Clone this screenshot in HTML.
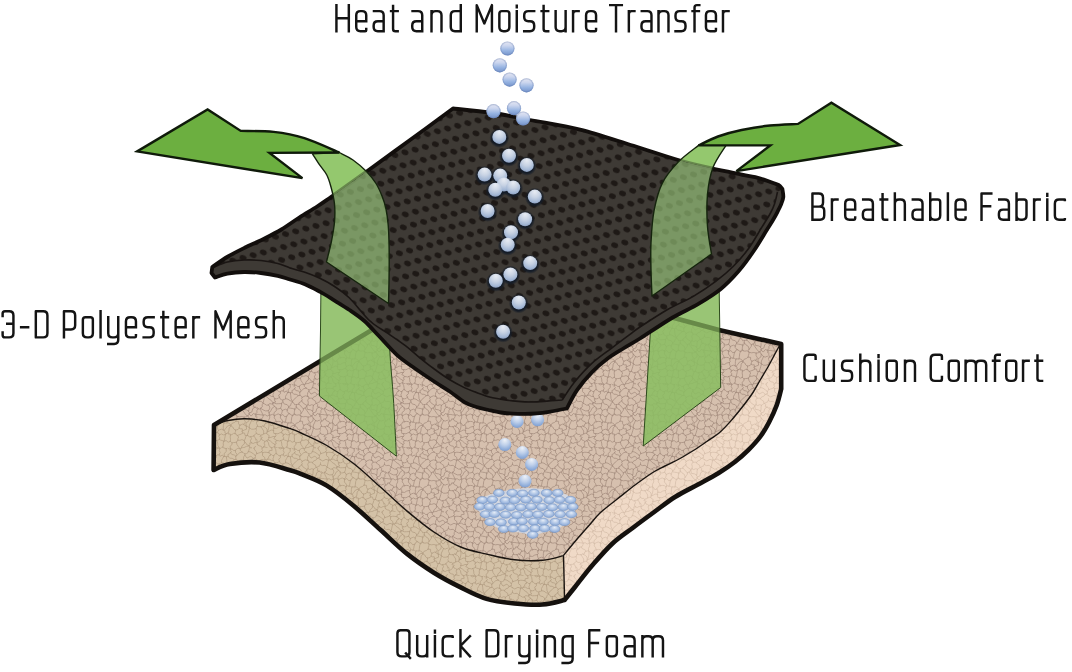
<!DOCTYPE html>
<html><head><meta charset="utf-8"><title>Layers</title>
<style>
html,body{margin:0;padding:0;background:#fff;}
body{width:1072px;height:672px;overflow:hidden;position:relative;}
svg{position:absolute;left:0;top:0;display:block;filter:blur(0.45px);}
text{font-family:"Liberation Sans",sans-serif;}
</style></head><body>
<svg width="1072" height="672" viewBox="0 0 1072 672">
<defs>
<path id="crkp" d="M23.4 13.1L22.6 11.2L24.5 9.7L24.3 7.8M23.4 13.1L24 14.8L25.3 15.6L27 16.1M24.3 7.8L25 6.8L26.3 7.1L27.2 6.4M27.2 6.4L28.1 8.3L30.6 7L31.6 8.7M31.6 8.7L30.6 10.5L29.5 12.4L29.6 14.7M27 16.1L27.7 15.3L28.9 15.4L29.6 14.7M23.4 13.1L22.2 14.4L20.7 14.8L19 14.8M24.3 7.8L22.6 7.6L21.6 6.3L20.2 5.7M17.4 12.5L18 13.2L18.1 14.3L19 14.8M17.4 12.5L16.9 10.8L17.6 9.2L17.8 7.6M20.2 5.7L19.1 5.9L18.4 6.7L17.8 7.6M65.7 60.8L65.1 62.6L62.9 62.7L62 64.2M52.5 57.5L52.3 57.2L52.3 56.8L52.1 56.5M52.5 57.5L53.9 59L54.9 60.8L57 61.5M57 61.5L57.9 60.6L57.8 58.9L59.4 58.8M59.4 58.8L58.3 56.9L59.5 54.7L58.8 52.7M55.2 51.4L56.4 51.7L57.3 53L58.8 52.7M52.1 56.5L53.2 55L53.6 52.9L55 51.5M27.2 6.4L28.2 4.5L27.2 2.4L28 0.4M31.6 8.7L31.9 8.2L32.4 8.9L32.7 8.5M28 0.4L28.5 -1L30 -0.2L30.8 -1M30.8 -1L31.6 0.1L33 0.2L34.1 0.7M32.7 8.5L32 5.7L34.3 3.5L34.1 0.7M44.7 31.7L44.2 30.7L44.5 29.9L45.2 29.2M44.7 31.7L44.9 31.9L44.9 32.2L45.1 32.3M45.2 29.2L46.2 27.8L47.2 26.5L47.5 24.8M55.1 31.9L52.9 29.5L51 26.8L49.1 24.1M55.1 31.9L54.4 32.9L53.2 32.9L52.1 33.1M52.1 33.1L49.9 32.5L47.5 32.8L45.1 32.3M47.5 24.8L48 24.7L48.4 24.1L49.1 24.1M36.5 17.4L38.1 15.2L40.3 13.5L42.2 11.5M36.5 17.5L36.6 17.7L36.5 18L36.6 18.2M36.6 18.2L37.9 19.1L38.6 20.8L40.6 20.6M40.6 20.6L41.3 20.4L42 20.3L42.8 20.2M42.8 20.2L43.1 18.6L44.7 18L45.6 16.8M45.6 16.8L46.3 15.7L45.6 14.4L46.3 13.3M46.3 13.3L45.4 12.6L44.8 11.6L43.6 11.3M43.6 11.3L43.1 11.4L42.7 11.6L42.2 11.5M34.3 8.9L35 9.1L35.5 8.6L36.1 8.4M34.3 8.9L34.8 11.8L35 14.7L36.5 17.4M36.1 8.4L37.7 10.2L40.2 10.3L42.2 11.5M29.6 14.7L32 15.2L34.1 16.7L36.5 17.5M32.7 8.5L33.2 8.6L33.9 8.2L34.3 8.9M27 16.1L26.6 16.7L26.9 17.3L26.9 18M32.7 22.5L31.1 20.6L28.4 20.1L26.9 18M32.7 22.5L34.6 21.7L35 19.4L36.6 18.2M40.3 22.8L42 24.9L44.3 26.4L45.2 29.2M40.3 22.8L40.3 22.1L40.4 21.3L40.6 20.6M47.5 24.8L45.8 23.4L44.6 21.6L42.8 20.2M51 21.6L50.9 21.9L50.6 22.1L50.7 22.5M51 21.6L49 20.3L47 18.9L45.6 16.8M50.7 22.5L50.1 23L49.4 23.3L49.1 24.1M51.5 12.4L49.6 11.8L48 12.4L46.3 13.3M51.5 12.4L52.5 12.4L52.5 13.6L53.1 14.1M53.1 14.1L51.7 16.1L52.3 18.4L52 20.7M52 20.7L51.7 21.1L51.3 21.2L51 21.6M17.4 12.5L15.3 12.4L13.5 11.2L11.3 11.2M17.8 7.6L16.6 7.5L15.4 6.5L14.1 7.3M11.3 11.2L12.5 10.2L12.8 8.4L14.1 7.3M20.2 5.7L20 3.4L19.6 1.2L18.4 -0.8M15.7 -0.2L16.5 -0.6L17.4 -0.8L18.4 -0.8M15.7 -0.2L16.2 2.3L13.3 2.7L12.9 4.7M12.9 4.7L13.5 5.4L14.7 6L14.1 7.3M36.1 8.4L35.9 6.5L37.6 5.9L38.5 4.7M43.6 11.3L44 10.3L43.7 9.3L43.8 8.3M43.8 8.3L42.2 6.9L39.9 6.6L38.5 4.7M34.1 0.7L35.5 -0.3L37 1.2L38.5 0.5M38.5 0.5L38.5 0.7L38.7 0.9L38.8 1.1M38.5 4.7L39.4 3.6L38.1 2.3L38.8 1.1M38.8 1.1L40.4 1.2L41.6 2.6L43.4 2.4M43.9 8.2L45 6.2L43.5 4.4L43.4 2.4M28 0.4L27.9 0.1L27.6 0.3L27.4 0.1M18.4 -0.8L18.5 -0.9L18.5 -1L18.6 -1.1M27.4 0.1L24.4 0.8L21.6 -0.9L18.6 -1.1M49.3 -0.1L48.8 0L48.7 0.5L48.3 0.8M47.8 0.6L48 0.7L48.1 0.9L48.3 0.8M43.4 2.4L44.5 1L45.9 0.2L47.8 0.6M50.2 4.1L49.2 3.2L48.3 2.3L48.3 0.8M50.2 4.1L47.6 4.6L45.9 6.6L43.9 8.2M39 30.6L38.3 28.9L38.4 27.2L38.8 25.4M39 30.6L37.8 29.6L37.5 31.3L36.6 31.3M36.6 31.3L35.2 31.2L34.4 30L33.2 29.6M38.8 25.4L36.8 24.5L34.6 24.2L32.4 23.7M33.2 29.6L32 28.7L31.2 27.7L31.3 26.1M32.4 23.7L31.8 24.4L31.7 25.3L31.3 26.1M40.3 22.8L40.5 24.1L38.7 24.2L38.8 25.4M44.7 31.7L42.9 30.8L40.9 31.2L39 30.6M32.7 22.5L32.6 22.9L32.5 23.3L32.4 23.7M-3.2 19.5L-2.1 20.5L-0.9 21.5L-1 23.2M0.3 16.6L2.4 17.6L5.1 17.3L7.1 19.1M0.3 16.6L0.5 14.9L-0.9 13.3L0.1 11.5M7.1 19.1L7.6 16.9L8.1 14.6L8.7 12.3M0.1 11.5L2.8 13L5.9 11.3L8.7 12.3M11.3 11.2L11 11.8L10.4 11.9L9.8 11.9M9.8 11.9L9.6 12.1L9.3 12L9 12M12.9 4.7L10.8 4.4L8.8 4.2L6.7 4.8M6.7 4.8L6.4 7.6L8.7 9.4L9 12M15.7 -0.2L15.6 -0.3L15.5 -0.3L15.4 -0.3M52.1 33.1L52.1 35.5L53.5 38L51.7 40.3M45.1 32.3L44.9 33.9L44.4 35.5L44.1 37.1M44.1 37.1L46.6 37.4L46.6 39.9L47.9 41.2M47.9 41.2L49.1 40.8L50.3 40.1L51.7 40.3M43.4 46.1L44.8 45.8L46.2 45.4L47.2 44.1M43.4 46.1L43.6 47.3L43.1 48.4L43.2 49.7M43.2 49.7L44.1 50.1L44.9 50.6L45.3 51.6M45.3 51.6L47.1 50.8L49 50.2L50.7 49M47.2 44.1L48.4 44.8L50.3 44.8L50.3 47M50.7 49L50.8 48.3L49.8 47.8L50.3 47M45.9 56.2L45.8 54.7L46.7 53L45.3 51.6M45.9 56.2L47.9 56.3L50 55.6L52.1 56.5M55 51.5L53.1 51.5L52.6 49.1L50.7 49M47.9 41.2L47.6 42.2L47.1 43L47.2 44.1M51.7 40.3L52.2 41.2L53.2 41.3L54 41.9M54.3 42.3L54.2 42.1L54 42.1L54 41.9M54.3 42.3L54.6 45.2L52.4 46L50.3 47M57.5 43.9L56.8 46.4L56.1 48.9L55.2 51.4M57.5 43.9L57.5 43.7L57.3 43.6L57.2 43.5M57.2 43.5L56.3 43L55.4 42.3L54.3 42.3M57.2 43.5L57.4 41L58.5 38.9L59.5 36.6M54 41.9L54 38.9L56.8 37.1L57.3 34.3M59.5 36.6L58.8 35.9L58.3 34.9L57.3 34.3M57.5 43.9L59.5 45.2L61.7 45.2L64 44.7M64 44.7L64.5 43.9L65.4 43.4L65.7 42.4M65.7 42.4L64.5 41L65.5 39.3L64.9 37.7M59.5 36.6L61.3 37.1L63.3 36.2L64.9 37.7M55.1 31.9L55.4 32L55.6 31.7L55.8 31.8M55.8 31.8L56 32.8L57 33.3L57.3 34.3M26.9 18L26.2 18.3L25.7 18.7L25.6 19.6M26.3 26.4L27.9 25.8L29.5 25.2L31.3 26.1M26.3 26.4L25.6 25.8L25.4 24.8L24.4 24.3M25.6 19.6L25.5 21.2L25.2 22.8L24.4 24.3M19 14.8L18.2 15.9L19.8 18L17.4 18.5M25.6 19.6L22.8 19.7L20.1 19.8L17.4 18.5M9.8 11.9L12.1 14.4L15 16.2L17.1 18.9M12.5 21L10.5 21.2L8.9 20.1L7.2 19.3M12.5 21L13.6 19.5L15.4 20L16.9 19.4M8.7 12.3L8.8 12.2L8.9 12.1L9 12M16.9 19.4L16.9 19.2L17.1 19.1L17.1 18.9M17.4 18.5L17.3 18.6L17.2 18.7L17.1 18.9M57.6 -0.6L59 0L60.6 -0.6L62 0.2M57.6 -0.6L57.6 -1.1L57.3 -1.6L57.1 -2.1M49.3 -0.1L51.9 -0.6L54.4 -1.7L57.1 -2.1M64.9 37.7L65 37.5L65.3 37.3L65.4 37M65.4 37L66.3 34.5L63.7 32.9L63.7 30.6M63.7 30.6L63.6 30.5L63.5 30.4L63.4 30.3M55.8 31.8L56.5 31.4L56.9 30.8L57.2 30.1M63.4 30.3L61.4 29.5L59.2 32.1L57.2 30.1M51.5 12.4L51.5 10.6L51.7 8.8L52.9 7.2M53.1 14.1L54.2 14.2L55.4 14.1L56.4 14.7M56.4 14.7L57.7 12.9L59.9 12.2L61.2 10.4M61.2 10.4L58.9 8.1L55 10.1L52.9 7.2M50.2 4.1L51.1 4.5L51.8 5.4L52.8 5.9M57.6 -0.6L57.2 0.7L57 2.1L56.4 3.4M56.4 3.4L55.7 5L54.4 5.6L52.8 5.9M52.9 7.2L53 6.8L53.1 6.3L52.8 5.9M30.8 32.1L31.6 31.3L32 30.1L33.2 29.6M30.8 32.1L30.1 34L29.8 36.1L29.1 38.1M36.6 31.3L35.7 33.7L35.4 36.2L35 38.7M29.1 38.1L30.2 38.1L31 38.9L32 39.1M35 38.7L34.1 39.4L33 38.5L32 39.1M-1 23.2L-0.3 24.4L1.4 23.6L2.1 24.8M2.1 24.8L0.9 26.5L0.9 28.7L-0.6 30.3M15.4 -0.3L13 -1.4L10.5 -1.6L7.8 -1.3M0.9 58.9L1.2 59.5L1.1 60.3L1.7 60.8M61.8 51.9L62.6 50.9L63.4 49.9L64.7 49.4M61.8 51.9L63.2 53.9L64 56.2L65 58.5M58.8 52.7L59.8 52.3L60.8 52.3L61.8 51.9M64 44.7L64.7 46.2L63.9 47.9L64.7 49.4M59.4 58.8L61.2 59.5L63.1 58.5L64.9 58.9M64.9 58.9L64.9 58.7L65 58.6L65 58.5M65.7 60.8L65.8 60L65.1 59.6L64.9 58.9M52.5 57.5L52.3 60L50.2 61.6L49.3 63.9M57 61.5L56.9 61.6L57.2 61.7L57.1 61.9M49.3 63.9L52 63.6L54.4 62.4L57.1 61.9M62 64.2L60.4 64.5L59.1 63.3L57.6 63.4M57.1 61.9L57.6 62.3L57.3 62.9L57.6 63.4M18.6 31.6L18.2 33.9L19.6 35.7L20.2 37.8M18.6 31.6L20.4 30.7L22.2 29.9L24.3 30.9M24.7 31.5L24.4 31.4L24.3 31.2L24.3 30.9M24.7 31.5L24.3 34L26.2 36L26.7 38.3M20.2 37.8L22.3 37.4L24.3 37.6L26.1 38.9M26.7 38.3L26.6 38.6L26.3 38.7L26.1 38.9M30.8 32.1L28.7 32.8L26.9 30.5L24.7 31.5M26.3 26.4L26.1 28.1L25.5 29.6L24.3 30.9M29.1 38.1L28.3 38.1L27.4 37.7L26.7 38.3M25.3 42.5L26.4 41.5L25.5 40L26.1 38.9M25.3 42.5L25.5 43.9L25.9 45.2L26.5 46.6M32 39.1L31.4 41.3L31.3 43.5L31.2 45.9M26.5 46.6L27.9 45.7L29.5 45.2L31.2 45.9M25.3 42.5L22.8 43L20.6 44.4L17.9 44.2M20.2 37.8L18.5 38.1L17.9 39.8L16.7 40.9M16.7 40.9L17.7 41.8L17.7 43L17.9 44.2M66.1 24.8L65.5 26.8L64.4 28.5L63.4 30.3M63 23.2L60.7 24.7L59.9 27.9L57.2 29.2M63 23.2L61.2 22.7L61.8 20.7L60.8 19.5M57.6 21.3L58.4 20.6L59.3 20.2L60.1 19.4M57.6 21.3L57 23.2L57.1 25.1L56.6 27M56.6 27L56.5 27.8L57.4 28.4L57.2 29.2M60.1 19.4L60.3 19.5L60.6 19.4L60.8 19.5M66.1 24.8L64.8 24.9L64.2 23.4L63 23.2M57.2 30.1L57.3 29.8L56.9 29.5L57.2 29.2M64.3 16.6L63.6 18.1L61.8 18.4L60.8 19.5M52 20.7L53.7 21.6L55.7 20.7L57.6 21.3M56.4 14.7L57.7 16.2L59.6 17.2L60.1 19.4M50.7 22.5L51.5 25.4L54.4 25.8L56.6 27M62.9 9.8L63.4 9.1L63.5 8.3L63.3 7.4M62.9 9.8L63 10.6L63.5 11.1L64.1 11.5M63.3 7.4L63.7 6.7L64.5 6.5L64.8 5.7M61.2 10.4L61.8 10.3L62.4 10.4L62.9 9.8M56.4 3.4L58.9 4.2L61.2 5.7L63.3 7.4M64.3 16.6L64.7 14.9L65 13.2L64.1 11.5M62 0.2L62.8 2L64.3 3.6L64.8 5.7M38.8 41.3L38.9 41.5L39 41.7L39 41.9M38.7 41.2L35.7 41.9L33.9 44.2L32.1 46.5M39 41.9L37.2 44.1L36.9 46.9L36.1 49.5M32.1 46.5L33.1 47.3L32.9 49L34.3 49.6M36.1 49.5L35.5 49L34.9 49.4L34.3 49.6M44.1 37.1L42.4 38.5L40.1 39.3L38.8 41.3M43.4 46.1L41.7 44.9L40.8 43L39 41.9M35 38.7L36.5 39.1L37.8 39.8L38.7 41.2M31.2 45.9L31.4 46.1L31.7 46.3L32.1 46.5M38.4 51L38.2 49.8L36.8 50.1L36.1 49.5M38.4 51L40 50.6L41.4 49.4L43.2 49.7M12.5 21L13.8 23L13.6 24.9L12.3 26.8M7.2 19.3L6.1 20.8L6.3 22.9L4.7 24.2M4.7 24.2L7 25.8L9.4 26.9L12.3 26.8M0.3 16.6L-0.7 17.7L-2.8 17.6L-3.2 19.5M2.1 24.8L2.9 24.8L3.7 25L4.5 24.4M4.7 24.2L4.6 24.3L4.5 24.3L4.5 24.4M-0.6 30.3L-0.4 30.4L-0.4 30.5L-0.3 30.6M-0.3 30.6L2.1 30.4L4.5 30.8L7 31M4.5 24.4L4.9 26.7L6 28.8L7 31M1.4 37L0.8 34.9L0.8 32.7L-0.3 30.6M1.4 37L3 36.9L3.6 34.9L5.4 35.1M5.4 35.1L6.4 33.9L7 32.7L7.2 31.2M-0.7 7.4L-0.5 8.2L-1.1 9L-1.1 9.8M0.1 11.5L-0.7 11.3L-0.3 10.1L-1.1 9.8M5.6 3.8L4.1 4.6L2.5 5.1L0.8 5.7M5.6 3.8L6.6 2.6L5.9 1.2L6.2 -0.1M0.8 5.7L0.3 3.7L-1.7 2.4L-2 0.2M6.2 -0.1L4.5 -0.8L2.7 -1.3L1.7 -3.2M1.7 -3.2L0.6 -2L-1.2 -1.5L-2 0.2M6.7 4.8L6.4 4.5L6.1 4L5.6 3.8M-0.7 7.4L-0.5 6.6L0.1 6.1L0.8 5.7M7.8 -1.3L7.4 -0.8L6.7 -0.7L6.2 -0.1M0.9 37.7L1.1 37.5L1.2 37.3L1.4 37M-2.2 51.9L-1 51.4L-0.3 50.2L0.7 49.4M0 44.7L0.3 46.2L-0.4 47.9L0.7 49.4M0.9 58.9L0.9 58.7L1 58.6L1 58.5M1 58.5L1 55.8L-1 54.1L-2.2 51.9M4.8 51.4L3.7 50.3L1.9 50.5L0.7 49.4M4.8 51.4L3.9 52.6L6.3 53.3L5.3 54.5M5.3 54.5L4.4 56.4L3 57.7L1 58.5M1.7 42.4L0.5 42.7L0.4 43.8L0 44.7M1.7 42.4L1.3 40.9L0.3 39.5L0.9 37.7M1.7 42.4L2.8 42.7L3.8 42.7L4.9 42.7M4.9 42.7L6.3 44.8L7.7 47L7.7 49.7M7.7 49.7L7 50.8L5.7 50.7L4.8 51.4M7.7 49.7L8.7 49.7L9.6 49.3L10.6 49.1M10.6 49.1L11.4 50.5L13.2 51.4L12.8 53.4M8.9 57.5L7.7 56.5L6.1 56.1L5.3 54.5M8.9 57.5L9.5 57.2L10.2 57.1L10.8 56.6M12.8 53.4L12.8 54.3L12.7 55.1L12 55.8M10.8 56.6L11.3 56.5L11.6 56.1L12 55.8M20.9 56.7L19.9 55.5L17.8 54.7L19.2 52.5M20.9 56.7L22.2 56.6L23.5 57L24.8 56.4M27.2 55.3L28 53.9L26.8 52.5L27.3 51.1M27.2 55.3L26.5 55.9L25.7 56.2L24.8 56.4M25.7 48.2L25.8 49.4L27.3 49.8L27.3 51.1M25.7 48.2L23.8 48.8L22 49.8L19.8 49.7M19.8 49.7L19.5 50.6L20.2 51.7L19.2 52.5M12.8 53.4L15 53.4L17 52.5L19.2 52.5M18.9 60.4L16.5 59L14.5 57.1L12 55.8M18.9 60.4L20.3 59.6L19.2 57.4L20.9 56.7M26.5 46.6L25.9 47L25.8 47.6L25.7 48.2M33.4 50.5L31.4 50.9L29.3 49.9L27.3 51.1M33.4 50.5L33.7 50.3L34.2 50.1L34.3 49.6M17.6 46.4L17.4 45.7L17.4 44.9L17.9 44.2M17.6 46.4L17.6 48L17.8 49.4L19.8 49.7M10.6 49.1L11 48.8L11.3 48.4L11.3 47.9M11.3 47.9L13.3 47.1L15.2 46L17.6 46.4M15.4 63.7L15.5 63.8L15.6 63.9L15.7 63.8M15.4 63.7L12.7 64.7L10.3 63.4L7.8 62.7M7.8 62.7L7.7 63.6L6.8 63.5L6.2 63.9M8.9 57.5L8 59.1L9 61.1L7.8 62.7M10.8 56.6L12.5 58.8L13 61.8L15.4 63.7M1.7 60.8L3.2 61.8L5.2 62.2L6.2 63.9M7.2 42.2L9.3 43.4L11 45L11.3 47.7M7.2 42.2L8.5 41.6L8.7 40L9.9 39.4M11.3 47.7L12.5 45L13 42.2L12.9 39.3M9.9 39.4L10.7 39L11.6 38.9L12.6 38.9M12.6 38.9L12.6 39.1L12.8 39.2L12.9 39.3M4.9 42.7L5.7 42.6L6.3 41.7L7.2 42.2M5.4 35.1L6.5 36.9L8.8 37.5L9.9 39.4M16.7 40.9L14.9 41.8L14.1 40.2L12.9 39.3M13.6 31.2L13.5 31.1L13.5 30.9L13.2 30.9M13.6 31.2L15 30.9L16.5 30.3L18 31.2M13.2 30.9L13.9 30.2L13.2 29.7L13.1 29.1M13.1 29.1L14.8 26.8L16.1 24.2L18.6 22.4M18 31.2L18 28.6L20.4 26.7L20.1 23.9M18.6 22.4L19.2 22.8L19.8 23.3L20.1 23.9M7.2 31.2L9.2 30.7L11.2 32.1L13.2 30.9M12.6 38.9L12.5 36.3L13.7 33.9L13.6 31.2M18.6 31.6L18.4 31.4L18.2 31.3L18 31.2M12.3 26.8L12.9 27.4L12.6 28.4L13.1 29.1M16.9 19.4L16.6 20.9L18 21.4L18.6 22.4M24.4 24.3L23 24.8L21.5 25L20.1 23.9M38.4 51L38.2 53.1L38.5 55.2L38.3 57.3M33.4 50.5L33.1 52.7L32.6 54.9L32.1 57.1M38.3 57.3L36.2 58.3L34.2 56.6L32.1 57.1M27.2 55.3L28.6 56.1L30.2 56.5L31.8 57.3M31.8 57.3L31.9 57.2L32.1 57.2L32.1 57.1M18.6 62.9L18.5 63L18.5 63.1L18.4 63.2M18.6 62.9L21.4 64.1L24.5 63.4L27.4 64.1M27.4 64.1L27.7 64.1L27.9 64.2L28 64.4M15.7 63.8L16.6 63.6L17.4 62.9L18.4 63.2M18.9 60.4L19 61.3L18.5 62L18.6 62.9M24.8 56.4L25.7 59L25.9 61.7L27.4 64.1M31.8 57.3L31.2 59.1L31.4 61.1L30.8 63M30.8 63L29.9 63.6L29.1 64.2L28 64.4M30.8 63L31.7 64L33 64.2L34.1 64.7M38.8 65.1L40.4 65.2L41.6 66.5L43.4 66.4M38.8 65.1L38.7 64.9L38.5 64.7L38.5 64.5M38.5 64.5L38 62.4L39.8 60.9L40.1 58.9M47.8 64.6L46.3 65L44.9 65.8L43.4 66.4M47.8 64.6L46.4 62.6L45 60.5L44.4 58.1M44.4 58.1L43 58.5L41.5 58.5L40.1 58.9M38.3 57.3L38.9 57.8L39.5 58.3L40.1 58.9M34.1 64.7L35.6 64.3L37 64.8L38.5 64.5M45.9 56.2L45.3 56.8L45.1 57.6L44.4 58.1M49.3 63.9L48.9 64.1L48.5 64.4L48.3 64.8M48.3 64.8L48.2 64.7L48 64.7L47.8 64.6"/>
<pattern id="crk" width="64" height="64" patternUnits="userSpaceOnUse"><use href="#crkp" fill="none" stroke="#a48c7e" stroke-width="0.75" stroke-linecap="round" stroke-linejoin="round"/></pattern>
<pattern id="crkL" width="64" height="64" patternUnits="userSpaceOnUse"><use href="#crkp" fill="none" stroke="#b29c82" stroke-width="0.75" stroke-linecap="round" stroke-linejoin="round"/></pattern>
<pattern id="crkR" width="64" height="64" patternUnits="userSpaceOnUse"><use href="#crkp" fill="none" stroke="#d6bea9" stroke-width="0.75" stroke-linecap="round" stroke-linejoin="round"/></pattern>
<pattern id="dots" width="10.5" height="24" patternUnits="userSpaceOnUse" patternTransform="rotate(-15)">
<g fill="#1e1916">
<ellipse cx="0" cy="0" rx="3.6" ry="2.6" transform="rotate(35 0 0)"/>
<ellipse cx="10.5" cy="0" rx="3.6" ry="2.6" transform="rotate(35 10.5 0)"/>
<ellipse cx="0" cy="24" rx="3.6" ry="2.6" transform="rotate(35 0 24)"/>
<ellipse cx="10.5" cy="24" rx="3.6" ry="2.6" transform="rotate(35 10.5 24)"/>
<ellipse cx="5.25" cy="12" rx="3.6" ry="2.6" transform="rotate(35 5.25 12)"/>
</g>
</pattern>
<linearGradient id="bgc" x1="0" y1="0" x2="0" y2="1">
<stop offset="0" stop-color="#e6ebf5"/><stop offset="0.45" stop-color="#b5c8e8"/><stop offset="1" stop-color="#7c9dd0"/>
</linearGradient>
<linearGradient id="bg" x1="0" y1="0" x2="0" y2="1">
<stop offset="0" stop-color="#e6e7f2"/><stop offset="0.3" stop-color="#ccd6ee"/><stop offset="0.65" stop-color="#97b4e2"/><stop offset="1" stop-color="#7391c8"/>
</linearGradient>
<radialGradient id="bge" cx="0.5" cy="0.5" r="0.5">
<stop offset="0.75" stop-color="#5a74a8" stop-opacity="0"/><stop offset="1" stop-color="#5a74a8" stop-opacity="0.45"/>
</radialGradient>
<radialGradient id="bf" cx="0.5" cy="0.3" r="0.75" fx="0.5" fy="0.15">
<stop offset="0" stop-color="#e8ecf3"/><stop offset="0.45" stop-color="#c8d3e4"/><stop offset="0.8" stop-color="#a3b7d5"/><stop offset="1" stop-color="#8396b8"/>
</radialGradient>
<radialGradient id="pg" cx="0.5" cy="0.45" r="0.6" fx="0.5" fy="0.3">
<stop offset="0" stop-color="#e6edf7"/><stop offset="0.5" stop-color="#b2c7e6"/><stop offset="1" stop-color="#82a2d3"/>
</radialGradient>
<radialGradient id="tb" cx="0.5" cy="0.3" r="0.75" fx="0.5" fy="0.15">
<stop offset="0" stop-color="#eef2f8"/><stop offset="0.45" stop-color="#bfd0ea"/><stop offset="0.8" stop-color="#8fadda"/><stop offset="1" stop-color="#7c98c8"/>
</radialGradient>
<radialGradient id="sh" cx="0.5" cy="0.5" r="0.5">
<stop offset="0.72" stop-color="#131b27" stop-opacity="0.95"/><stop offset="1" stop-color="#131b27" stop-opacity="0"/>
</radialGradient>
</defs>

<path d="M214,425 L479,265.5 L719,330 L780.4,344 C779.7,345.3 778,348.3 776,352 C774,355.7 771.1,361.4 768.5,366 C765.9,370.6 763.1,375.1 760.5,379.5 C757.9,383.9 756,387.9 753,392.5 C750,397.1 746,402.3 742.5,406.8 C739,411.3 735.8,415.3 732.1,419.5 C728.4,423.7 724.4,428.3 720.2,432 C716,435.7 711.3,438.4 706.8,441.5 C702.3,444.6 697.9,447.7 693.4,450.5 C688.9,453.3 684.7,455.9 680,458.5 C675.3,461.1 669.4,463.8 665,466 C660.6,468.2 658.5,468.9 653.6,472 C648.7,475.1 641.7,480.1 635.7,484.5 C629.8,488.9 623.9,493.8 617.9,498.5 C611.9,503.2 604.8,508.5 600,513 C595.2,517.5 593.2,520.8 589,525.5 C584.8,530.2 579.2,536.5 575,541.5 C570.8,546.5 565.4,553.1 563.5,555.4 C560,556.4 550.8,559.5 542.6,560.2 C534.5,560.9 523.9,560.8 514.6,559.8 C505.3,558.8 495.6,556.2 486.6,554.1 C477.6,552 469.5,550.7 460.7,547 C451.9,543.3 442.8,538 433.9,532 C425,526 416,518.6 407.1,511.1 C398.2,503.6 389.3,494.9 380.4,487 C371.5,479.1 362.5,470.4 353.6,463.5 C344.7,456.6 335.7,450.7 326.8,445.5 C317.9,440.3 306.2,435.4 300,432.5 C293.8,429.6 295.1,430.2 289.3,428.3 C283.5,426.4 272.4,422.6 265,421 C257.6,419.4 250.8,418.9 244.6,418.8 C238.4,418.7 233.1,419.5 228,420.5 C222.9,421.5 216.3,424.2 214,425Z" fill="#d6c0ae"/>
<path d="M214,425 L479,265.5 L719,330 L780.4,344 C779.7,345.3 778,348.3 776,352 C774,355.7 771.1,361.4 768.5,366 C765.9,370.6 763.1,375.1 760.5,379.5 C757.9,383.9 756,387.9 753,392.5 C750,397.1 746,402.3 742.5,406.8 C739,411.3 735.8,415.3 732.1,419.5 C728.4,423.7 724.4,428.3 720.2,432 C716,435.7 711.3,438.4 706.8,441.5 C702.3,444.6 697.9,447.7 693.4,450.5 C688.9,453.3 684.7,455.9 680,458.5 C675.3,461.1 669.4,463.8 665,466 C660.6,468.2 658.5,468.9 653.6,472 C648.7,475.1 641.7,480.1 635.7,484.5 C629.8,488.9 623.9,493.8 617.9,498.5 C611.9,503.2 604.8,508.5 600,513 C595.2,517.5 593.2,520.8 589,525.5 C584.8,530.2 579.2,536.5 575,541.5 C570.8,546.5 565.4,553.1 563.5,555.4 C560,556.4 550.8,559.5 542.6,560.2 C534.5,560.9 523.9,560.8 514.6,559.8 C505.3,558.8 495.6,556.2 486.6,554.1 C477.6,552 469.5,550.7 460.7,547 C451.9,543.3 442.8,538 433.9,532 C425,526 416,518.6 407.1,511.1 C398.2,503.6 389.3,494.9 380.4,487 C371.5,479.1 362.5,470.4 353.6,463.5 C344.7,456.6 335.7,450.7 326.8,445.5 C317.9,440.3 306.2,435.4 300,432.5 C293.8,429.6 295.1,430.2 289.3,428.3 C283.5,426.4 272.4,422.6 265,421 C257.6,419.4 250.8,418.9 244.6,418.8 C238.4,418.7 233.1,419.5 228,420.5 C222.9,421.5 216.3,424.2 214,425Z" fill="url(#crk)"/>
<path d="M214,425 C216.3,424.2 222.9,421.5 228,420.5 C233.1,419.5 238.4,418.7 244.6,418.8 C250.8,418.9 257.6,419.4 265,421 C272.4,422.6 283.5,426.4 289.3,428.3 C295.1,430.2 293.8,429.6 300,432.5 C306.2,435.4 317.9,440.3 326.8,445.5 C335.7,450.7 344.7,456.6 353.6,463.5 C362.5,470.4 371.5,479.1 380.4,487 C389.3,494.9 398.2,503.6 407.1,511.1 C416,518.6 425,526 433.9,532 C442.8,538 451.9,543.3 460.7,547 C469.5,550.7 477.6,552 486.6,554.1 C495.6,556.2 505.3,558.8 514.6,559.8 C523.9,560.8 534.5,560.9 542.6,560.2 C550.8,559.5 560,556.4 563.5,555.6 L564.6,600 C560.9,600.8 550.9,603.9 542.6,604.5 C534.3,605.1 523.9,604.4 514.6,603.5 C505.3,602.6 495.6,601.6 486.6,598.9 C477.6,596.2 469.5,591.8 460.7,587.4 C451.9,583 442.8,578.3 433.9,572.7 C425,567.1 416,561 407.1,553.9 C398.2,546.8 389.3,537.8 380.4,529.8 C371.5,521.8 362.5,513.1 353.6,505.7 C344.7,498.3 335.7,491 326.8,485.6 C317.9,480.2 306.2,476.2 300,473.6 C293.8,471 296.1,471.9 289.3,470 C282.6,468.1 269.4,463.5 259.5,462.5 C249.6,461.5 237.5,462.8 229.8,464 C222.2,465.2 216.3,469 213.6,470Z" fill="#d4c2a7"/>
<path d="M214,425 C216.3,424.2 222.9,421.5 228,420.5 C233.1,419.5 238.4,418.7 244.6,418.8 C250.8,418.9 257.6,419.4 265,421 C272.4,422.6 283.5,426.4 289.3,428.3 C295.1,430.2 293.8,429.6 300,432.5 C306.2,435.4 317.9,440.3 326.8,445.5 C335.7,450.7 344.7,456.6 353.6,463.5 C362.5,470.4 371.5,479.1 380.4,487 C389.3,494.9 398.2,503.6 407.1,511.1 C416,518.6 425,526 433.9,532 C442.8,538 451.9,543.3 460.7,547 C469.5,550.7 477.6,552 486.6,554.1 C495.6,556.2 505.3,558.8 514.6,559.8 C523.9,560.8 534.5,560.9 542.6,560.2 C550.8,559.5 560,556.4 563.5,555.6 L564.6,600 C560.9,600.8 550.9,603.9 542.6,604.5 C534.3,605.1 523.9,604.4 514.6,603.5 C505.3,602.6 495.6,601.6 486.6,598.9 C477.6,596.2 469.5,591.8 460.7,587.4 C451.9,583 442.8,578.3 433.9,572.7 C425,567.1 416,561 407.1,553.9 C398.2,546.8 389.3,537.8 380.4,529.8 C371.5,521.8 362.5,513.1 353.6,505.7 C344.7,498.3 335.7,491 326.8,485.6 C317.9,480.2 306.2,476.2 300,473.6 C293.8,471 296.1,471.9 289.3,470 C282.6,468.1 269.4,463.5 259.5,462.5 C249.6,461.5 237.5,462.8 229.8,464 C222.2,465.2 216.3,469 213.6,470Z" fill="url(#crkL)"/>
<path d="M563.5,555.4 C565.4,553.1 570.8,546.5 575,541.5 C579.2,536.5 584.8,530.2 589,525.5 C593.2,520.8 595.2,517.5 600,513 C604.8,508.5 611.9,503.2 617.9,498.5 C623.9,493.8 629.8,488.9 635.7,484.5 C641.7,480.1 648.7,475.1 653.6,472 C658.5,468.9 660.6,468.2 665,466 C669.4,463.8 675.3,461.1 680,458.5 C684.7,455.9 688.9,453.3 693.4,450.5 C697.9,447.7 702.3,444.6 706.8,441.5 C711.3,438.4 716,435.7 720.2,432 C724.4,428.3 728.4,423.7 732.1,419.5 C735.8,415.3 739,411.3 742.5,406.8 C746,402.3 750,397.1 753,392.5 C756,387.9 757.9,383.9 760.5,379.5 C763.1,375.1 765.9,370.6 768.5,366 C771.1,361.4 774,355.7 776,352 C778,348.3 779.7,345.3 780.4,344 L781.2,344 L781.2,388.9 C780.5,391.6 778.7,399.8 776.7,405.3 C774.7,410.8 772,416.5 769.3,421.7 C766.6,426.9 763.9,431.8 760.4,436.5 C756.9,441.2 752.7,445.7 748.5,449.9 C744.3,454.1 740.1,457.9 735.1,461.8 C730.1,465.7 724.9,469.2 718.7,473 C712.5,476.8 705.3,480.5 698,484.5 C690.7,488.5 682.3,492.4 675,497 C667.7,501.6 661.2,506.9 654.2,512 C647.2,517.1 640.2,522.2 633.3,527.5 C626.3,532.8 619.4,537.1 612.5,543.5 C605.6,549.9 598,558.8 591.7,566 C585.5,573.2 579.5,581.3 575,587 C570.5,592.7 566.3,597.8 564.6,600Z" fill="#f0dac7"/>
<path d="M563.5,555.4 C565.4,553.1 570.8,546.5 575,541.5 C579.2,536.5 584.8,530.2 589,525.5 C593.2,520.8 595.2,517.5 600,513 C604.8,508.5 611.9,503.2 617.9,498.5 C623.9,493.8 629.8,488.9 635.7,484.5 C641.7,480.1 648.7,475.1 653.6,472 C658.5,468.9 660.6,468.2 665,466 C669.4,463.8 675.3,461.1 680,458.5 C684.7,455.9 688.9,453.3 693.4,450.5 C697.9,447.7 702.3,444.6 706.8,441.5 C711.3,438.4 716,435.7 720.2,432 C724.4,428.3 728.4,423.7 732.1,419.5 C735.8,415.3 739,411.3 742.5,406.8 C746,402.3 750,397.1 753,392.5 C756,387.9 757.9,383.9 760.5,379.5 C763.1,375.1 765.9,370.6 768.5,366 C771.1,361.4 774,355.7 776,352 C778,348.3 779.7,345.3 780.4,344 L781.2,344 L781.2,388.9 C780.5,391.6 778.7,399.8 776.7,405.3 C774.7,410.8 772,416.5 769.3,421.7 C766.6,426.9 763.9,431.8 760.4,436.5 C756.9,441.2 752.7,445.7 748.5,449.9 C744.3,454.1 740.1,457.9 735.1,461.8 C730.1,465.7 724.9,469.2 718.7,473 C712.5,476.8 705.3,480.5 698,484.5 C690.7,488.5 682.3,492.4 675,497 C667.7,501.6 661.2,506.9 654.2,512 C647.2,517.1 640.2,522.2 633.3,527.5 C626.3,532.8 619.4,537.1 612.5,543.5 C605.6,549.9 598,558.8 591.7,566 C585.5,573.2 579.5,581.3 575,587 C570.5,592.7 566.3,597.8 564.6,600Z" fill="url(#crkR)"/>
<path d="M780.4,344 C779.7,345.3 778,348.3 776,352 C774,355.7 771.1,361.4 768.5,366 C765.9,370.6 763.1,375.1 760.5,379.5 C757.9,383.9 756,387.9 753,392.5 C750,397.1 746,402.3 742.5,406.8 C739,411.3 735.8,415.3 732.1,419.5 C728.4,423.7 724.4,428.3 720.2,432 C716,435.7 711.3,438.4 706.8,441.5 C702.3,444.6 697.9,447.7 693.4,450.5 C688.9,453.3 684.7,455.9 680,458.5 C675.3,461.1 669.4,463.8 665,466 C660.6,468.2 658.5,468.9 653.6,472 C648.7,475.1 641.7,480.1 635.7,484.5 C629.8,488.9 623.9,493.8 617.9,498.5 C611.9,503.2 604.8,508.5 600,513 C595.2,517.5 593.2,520.8 589,525.5 C584.8,530.2 579.2,536.5 575,541.5 C570.8,546.5 565.4,553.1 563.5,555.4 M563.5,555.6 C560,556.4 550.8,559.5 542.6,560.2 C534.5,560.9 523.9,560.8 514.6,559.8 C505.3,558.8 495.6,556.2 486.6,554.1 C477.6,552 469.5,550.7 460.7,547 C451.9,543.3 442.8,538 433.9,532 C425,526 416,518.6 407.1,511.1 C398.2,503.6 389.3,494.9 380.4,487 C371.5,479.1 362.5,470.4 353.6,463.5 C344.7,456.6 335.7,450.7 326.8,445.5 C317.9,440.3 306.2,435.4 300,432.5 C293.8,429.6 295.1,430.2 289.3,428.3 C283.5,426.4 272.4,422.6 265,421 C257.6,419.4 250.8,418.9 244.6,418.8 C238.4,418.7 233.1,419.5 228,420.5 C222.9,421.5 216.3,424.2 214,425 M563.5,555.4 L564.6,600" fill="none" stroke="#1a1410" stroke-width="1.4"/>
<path d="M213.6,470 L214,425 L479,265.5 L719,330 L781.2,344 L781.2,388.9 C780.5,391.6 778.7,399.8 776.7,405.3 C774.7,410.8 772,416.5 769.3,421.7 C766.6,426.9 763.9,431.8 760.4,436.5 C756.9,441.2 752.7,445.7 748.5,449.9 C744.3,454.1 740.1,457.9 735.1,461.8 C730.1,465.7 724.9,469.2 718.7,473 C712.5,476.8 705.3,480.5 698,484.5 C690.7,488.5 682.3,492.4 675,497 C667.7,501.6 661.2,506.9 654.2,512 C647.2,517.1 640.2,522.2 633.3,527.5 C626.3,532.8 619.4,537.1 612.5,543.5 C605.6,549.9 598,558.8 591.7,566 C585.5,573.2 579.5,581.3 575,587 C570.5,592.7 566.3,597.8 564.6,600 C560.9,600.8 550.9,603.9 542.6,604.5 C534.3,605.1 523.9,604.4 514.6,603.5 C505.3,602.6 495.6,601.6 486.6,598.9 C477.6,596.2 469.5,591.8 460.7,587.4 C451.9,583 442.8,578.3 433.9,572.7 C425,567.1 416,561 407.1,553.9 C398.2,546.8 389.3,537.8 380.4,529.8 C371.5,521.8 362.5,513.1 353.6,505.7 C344.7,498.3 335.7,491 326.8,485.6 C317.9,480.2 306.2,476.2 300,473.6 C293.8,471 296.1,471.9 289.3,470 C282.6,468.1 269.4,463.5 259.5,462.5 C249.6,461.5 237.5,462.8 229.8,464 C222.2,465.2 216.3,469 213.6,470Z" fill="none" stroke="#15110e" stroke-width="4.6" stroke-linejoin="round"/>
<g fill="#8bbd62" fill-opacity="0.88" stroke="#2d4a1c" stroke-width="1" stroke-linejoin="round">
<path d="M321,280 L320.5,330 L319.4,396 L396.4,456.2 C395.9,446.8 394.6,417.9 393.5,400 C392.4,382.1 390.5,365.7 389.7,349 C388.9,332.3 388.9,310.7 388.7,300 C388.5,289.3 388.5,287.5 388.5,285Z"/>
<path d="M651,290 L650.5,330 L643.2,446 L720.7,387.5 L719.8,330 L719.2,290Z"/>
</g>
<clipPath id="lbc"><path d="M321,280 L320.5,330 L319.4,396 L396.4,456.2 C395.9,446.8 394.6,417.9 393.5,400 C392.4,382.1 390.5,365.7 389.7,349 C388.9,332.3 388.9,310.7 388.7,300 C388.5,289.3 388.5,287.5 388.5,285Z"/><path d="M651,290 L650.5,330 L643.2,446 L720.7,387.5 L719.8,330 L719.2,290Z"/></clipPath>
<path d="M214,425 L479,265.5 L719,330 L781.2,344" fill="none" stroke="#15110e" stroke-width="4.6" stroke-opacity="0.2" clip-path="url(#lbc)"/>
<path d="M528.5,488 C517.5,488 503.7,491 495.5,493 C487.3,495 482.8,497.6 479.5,499.9 C476.2,502.2 475.7,504.4 476,506.8 C476.3,509.2 479.3,511.7 481.5,514.2 C483.7,516.7 485.9,519.4 489,521.8 C492.1,524.2 493.2,526.4 500,528.6 C506.8,530.8 524.5,533.1 530,535 C535.5,536.9 532,540 533,540 C534,540 531.8,536.9 536,535 C540.2,533.1 552.8,530.8 558,528.6 C563.2,526.4 564.4,524.2 567,521.8 C569.6,519.4 572,516.7 573.5,514.2 C575,511.7 576,509.2 576,506.8 C576,504.4 575.9,502.2 573.5,499.9 C571.1,497.6 569,495 561.5,493 C554,491 539.5,488 528.5,488Z" fill="#d3dcea" fill-opacity="0.85"/><ellipse cx="498.8" cy="492.9" rx="5.4" ry="3.6" fill="url(#pg)" stroke="#7b98c6" stroke-width="0.6"/><ellipse cx="512.2" cy="492.9" rx="5.4" ry="3.6" fill="url(#pg)" stroke="#7b98c6" stroke-width="0.6"/><ellipse cx="522.6" cy="493.6" rx="5.4" ry="3.6" fill="url(#pg)" stroke="#7b98c6" stroke-width="0.6"/><ellipse cx="533.9" cy="492.8" rx="5.4" ry="3.6" fill="url(#pg)" stroke="#7b98c6" stroke-width="0.6"/><ellipse cx="546.6" cy="492.9" rx="5.4" ry="3.6" fill="url(#pg)" stroke="#7b98c6" stroke-width="0.6"/><ellipse cx="557.7" cy="492.9" rx="5.4" ry="3.6" fill="url(#pg)" stroke="#7b98c6" stroke-width="0.6"/><ellipse cx="482.2" cy="500.1" rx="5.4" ry="3.6" fill="url(#pg)" stroke="#7b98c6" stroke-width="0.6"/><ellipse cx="492.3" cy="499.6" rx="5.4" ry="3.6" fill="url(#pg)" stroke="#7b98c6" stroke-width="0.6"/><ellipse cx="505.3" cy="500.6" rx="5.4" ry="3.6" fill="url(#pg)" stroke="#7b98c6" stroke-width="0.6"/><ellipse cx="514.4" cy="500.2" rx="5.4" ry="3.6" fill="url(#pg)" stroke="#7b98c6" stroke-width="0.6"/><ellipse cx="525.8" cy="499.6" rx="5.4" ry="3.6" fill="url(#pg)" stroke="#7b98c6" stroke-width="0.6"/><ellipse cx="536.9" cy="499.7" rx="5.4" ry="3.6" fill="url(#pg)" stroke="#7b98c6" stroke-width="0.6"/><ellipse cx="549.2" cy="500.2" rx="5.4" ry="3.6" fill="url(#pg)" stroke="#7b98c6" stroke-width="0.6"/><ellipse cx="559.5" cy="499.8" rx="5.4" ry="3.6" fill="url(#pg)" stroke="#7b98c6" stroke-width="0.6"/><ellipse cx="570.5" cy="499.9" rx="5.4" ry="3.6" fill="url(#pg)" stroke="#7b98c6" stroke-width="0.6"/><ellipse cx="479.6" cy="506.5" rx="5.4" ry="3.6" fill="url(#pg)" stroke="#7b98c6" stroke-width="0.6"/><ellipse cx="489.4" cy="506.8" rx="5.4" ry="3.6" fill="url(#pg)" stroke="#7b98c6" stroke-width="0.6"/><ellipse cx="499.9" cy="506.9" rx="5.4" ry="3.6" fill="url(#pg)" stroke="#7b98c6" stroke-width="0.6"/><ellipse cx="510.5" cy="507.3" rx="5.4" ry="3.6" fill="url(#pg)" stroke="#7b98c6" stroke-width="0.6"/><ellipse cx="520.7" cy="507.4" rx="5.4" ry="3.6" fill="url(#pg)" stroke="#7b98c6" stroke-width="0.6"/><ellipse cx="531" cy="506.6" rx="5.4" ry="3.6" fill="url(#pg)" stroke="#7b98c6" stroke-width="0.6"/><ellipse cx="541.7" cy="506.9" rx="5.4" ry="3.6" fill="url(#pg)" stroke="#7b98c6" stroke-width="0.6"/><ellipse cx="552.3" cy="507.3" rx="5.4" ry="3.6" fill="url(#pg)" stroke="#7b98c6" stroke-width="0.6"/><ellipse cx="563.4" cy="507" rx="5.4" ry="3.6" fill="url(#pg)" stroke="#7b98c6" stroke-width="0.6"/><ellipse cx="572.8" cy="506.8" rx="5.4" ry="3.6" fill="url(#pg)" stroke="#7b98c6" stroke-width="0.6"/><ellipse cx="485.5" cy="514.3" rx="5.4" ry="3.6" fill="url(#pg)" stroke="#7b98c6" stroke-width="0.6"/><ellipse cx="494.3" cy="513.9" rx="5.4" ry="3.6" fill="url(#pg)" stroke="#7b98c6" stroke-width="0.6"/><ellipse cx="505.6" cy="514.7" rx="5.4" ry="3.6" fill="url(#pg)" stroke="#7b98c6" stroke-width="0.6"/><ellipse cx="516.7" cy="515.1" rx="5.4" ry="3.6" fill="url(#pg)" stroke="#7b98c6" stroke-width="0.6"/><ellipse cx="528" cy="514.2" rx="5.4" ry="3.6" fill="url(#pg)" stroke="#7b98c6" stroke-width="0.6"/><ellipse cx="537.9" cy="514.6" rx="5.4" ry="3.6" fill="url(#pg)" stroke="#7b98c6" stroke-width="0.6"/><ellipse cx="548.8" cy="513.9" rx="5.4" ry="3.6" fill="url(#pg)" stroke="#7b98c6" stroke-width="0.6"/><ellipse cx="560.1" cy="514.2" rx="5.4" ry="3.6" fill="url(#pg)" stroke="#7b98c6" stroke-width="0.6"/><ellipse cx="571.3" cy="514.2" rx="5.4" ry="3.6" fill="url(#pg)" stroke="#7b98c6" stroke-width="0.6"/><ellipse cx="490" cy="522.1" rx="5.4" ry="3.6" fill="url(#pg)" stroke="#7b98c6" stroke-width="0.6"/><ellipse cx="501" cy="522.4" rx="5.4" ry="3.6" fill="url(#pg)" stroke="#7b98c6" stroke-width="0.6"/><ellipse cx="513.8" cy="521.6" rx="5.4" ry="3.6" fill="url(#pg)" stroke="#7b98c6" stroke-width="0.6"/><ellipse cx="522" cy="521.2" rx="5.4" ry="3.6" fill="url(#pg)" stroke="#7b98c6" stroke-width="0.6"/><ellipse cx="533.8" cy="521.7" rx="5.4" ry="3.6" fill="url(#pg)" stroke="#7b98c6" stroke-width="0.6"/><ellipse cx="543" cy="521.7" rx="5.4" ry="3.6" fill="url(#pg)" stroke="#7b98c6" stroke-width="0.6"/><ellipse cx="555.2" cy="521.9" rx="5.4" ry="3.6" fill="url(#pg)" stroke="#7b98c6" stroke-width="0.6"/><ellipse cx="564.5" cy="522.1" rx="5.4" ry="3.6" fill="url(#pg)" stroke="#7b98c6" stroke-width="0.6"/><ellipse cx="503.7" cy="529" rx="5.4" ry="3.6" fill="url(#pg)" stroke="#7b98c6" stroke-width="0.6"/><ellipse cx="512.9" cy="528.5" rx="5.4" ry="3.6" fill="url(#pg)" stroke="#7b98c6" stroke-width="0.6"/><ellipse cx="523.3" cy="528.3" rx="5.4" ry="3.6" fill="url(#pg)" stroke="#7b98c6" stroke-width="0.6"/><ellipse cx="535" cy="528.4" rx="5.4" ry="3.6" fill="url(#pg)" stroke="#7b98c6" stroke-width="0.6"/><ellipse cx="544.5" cy="528.3" rx="5.4" ry="3.6" fill="url(#pg)" stroke="#7b98c6" stroke-width="0.6"/><ellipse cx="554.6" cy="528.9" rx="5.4" ry="3.6" fill="url(#pg)" stroke="#7b98c6" stroke-width="0.6"/><ellipse cx="532.7" cy="534.8" rx="5.4" ry="3.6" fill="url(#pg)" stroke="#7b98c6" stroke-width="0.6"/>
<circle cx="517.1" cy="421.5" r="6.5" fill="url(#tb)"/>
<circle cx="537.6" cy="419.8" r="6.5" fill="url(#tb)"/>
<circle cx="504.8" cy="444.6" r="6.5" fill="url(#tb)"/>
<circle cx="522.3" cy="452.5" r="6.5" fill="url(#tb)"/>
<circle cx="531.6" cy="464.4" r="6.5" fill="url(#tb)"/>
<circle cx="525" cy="481.1" r="6.5" fill="url(#tb)"/>
<clipPath id="bandclip"><path d="M312.5,153.9 C313.7,155.7 317.2,161.4 319.6,164.9 C322,168.4 324.9,171.3 326.8,175 C328.7,178.7 329.7,182.2 331,187 C332.3,191.8 333.9,198.2 334.5,204 C335.1,209.8 335,215.8 334.5,222 C334,228.2 332.8,234.3 331.5,241 C330.2,247.7 327.3,258.5 326.5,262 L388.5,303.5 C388.6,299.9 388.9,288.9 389,282 C389.1,275.1 389.2,268.7 389.2,262 C389.2,255.3 389.2,248.2 389,242 C388.8,235.8 388.7,230.5 388.2,225 C387.7,219.5 387,213.8 386,209 C385,204.2 383.7,200.2 382,196 C380.3,191.8 378.6,187.6 376,183.5 C373.4,179.4 370.3,175.4 366.5,171.5 C362.7,167.6 357.5,163.2 353,160 C348.5,156.8 341.6,153.8 339.3,152.5Z"/><path d="M698.5,145.4 C695.1,148.2 684.3,155.7 678.2,162.1 C672.1,168.5 666.1,175.5 662.1,183.6 C658.1,191.7 656,200.6 654.1,210.4 C652.2,220.2 651.5,232.6 651,242.5 C650.5,252.4 650.8,261.1 651,270 C651.2,278.9 651.8,291.7 652,296 L711.5,254 C710.8,249.4 708.2,236.3 707.5,226.4 C706.8,216.5 706.6,204.1 707.5,194.3 C708.4,184.5 709.9,175.7 713,167.5 C716.1,159.3 723.8,149.1 726,145.4Z"/></clipPath>
<g fill="#94c86e">
<path d="M312.5,153.9 C313.7,155.7 317.2,161.4 319.6,164.9 C322,168.4 324.9,171.3 326.8,175 C328.7,178.7 329.7,182.2 331,187 C332.3,191.8 333.9,198.2 334.5,204 C335.1,209.8 335,215.8 334.5,222 C334,228.2 332.8,234.3 331.5,241 C330.2,247.7 327.3,258.5 326.5,262 L388.5,303.5 C388.6,299.9 388.9,288.9 389,282 C389.1,275.1 389.2,268.7 389.2,262 C389.2,255.3 389.2,248.2 389,242 C388.8,235.8 388.7,230.5 388.2,225 C387.7,219.5 387,213.8 386,209 C385,204.2 383.7,200.2 382,196 C380.3,191.8 378.6,187.6 376,183.5 C373.4,179.4 370.3,175.4 366.5,171.5 C362.7,167.6 357.5,163.2 353,160 C348.5,156.8 341.6,153.8 339.3,152.5Z"/>
<path d="M698.5,145.4 C695.1,148.2 684.3,155.7 678.2,162.1 C672.1,168.5 666.1,175.5 662.1,183.6 C658.1,191.7 656,200.6 654.1,210.4 C652.2,220.2 651.5,232.6 651,242.5 C650.5,252.4 650.8,261.1 651,270 C651.2,278.9 651.8,291.7 652,296 L711.5,254 C710.8,249.4 708.2,236.3 707.5,226.4 C706.8,216.5 706.6,204.1 707.5,194.3 C708.4,184.5 709.9,175.7 713,167.5 C716.1,159.3 723.8,149.1 726,145.4Z"/>
</g>
<path d="M453,108.5 C459.7,109.2 480.2,111.1 493,113 C505.8,114.9 515.5,117.2 530,120 C544.5,122.8 562.7,125.3 580,129.6 C597.3,133.9 615.7,140.3 633.6,145.8 C651.5,151.3 669.3,157.8 687.2,162.6 C705.1,167.4 729,171.8 740.8,174.4 C752.6,177 752.8,176.6 757.9,177.9 C763,179.2 767.9,181.1 771.3,182.3 C774.7,183.5 776.6,183.9 778.5,185 C780.4,186.1 781.8,188.3 782.4,189 C782.5,190.3 783.5,194.4 783.3,197 C783.1,199.6 782,202.1 781,204.6 C780,207.1 778.8,209.2 777.5,211.8 C776.2,214.4 774.9,216.8 773,220 C771.1,223.2 769.5,225.6 766.3,230.8 C763.1,236 758.3,244.2 753.7,251 C749.1,257.8 744,265 738.5,271.3 C733,277.6 727.5,283.5 720.8,289 C714,294.5 706,299.4 698,304.2 C690,308.9 682.4,311.8 672.7,317.5 C663,323.2 648.2,333.3 640,338.5 C631.8,343.7 628.8,345.1 623.3,348.5 C617.8,351.9 612.2,355.1 607,359 C601.8,362.9 597.1,367 592.1,372.1 C587.1,377.2 581.4,383.8 577.2,389.9 C573,396 568.5,405.4 566.8,408.5 C563.8,409.1 554.1,411 549.1,411.8 C544.1,412.6 541,413 537,413.3 C533,413.6 528.9,413.8 524.9,413.9 C520.9,414 516.8,413.9 512.8,413.7 C508.7,413.5 504.7,413.1 500.6,412.5 C496.6,411.9 492.5,410.9 488.5,410 C484.5,409.1 480.4,408.3 476.4,407 C472.4,405.7 468.7,404.7 464.3,402.1 C459.9,399.5 454.7,394.9 449.8,391.5 C444.9,388.1 440.8,385.9 434.9,382 C429,378.1 421,372.7 414.6,368.2 C408.2,363.7 402.8,360.2 396.8,354.8 C390.9,349.4 384.3,341.6 378.9,336 C373.5,330.4 369.3,325.3 364.4,321 C359.5,316.7 354.5,313.4 349.5,310 C344.5,306.6 339.6,303.7 334.6,300.6 C329.7,297.6 324.8,294.4 319.8,291.7 C314.9,289 309.9,286.2 304.9,284.2 C299.9,282.2 294.5,280.9 290,279.5 C285.5,278.1 282.6,276.9 277.8,275.8 C273,274.7 266.6,273.6 261,273 C255.4,272.4 249.8,271.9 244.2,272 C238.6,272.1 232.3,272.7 227.4,273.6 C222.5,274.5 217.1,276.9 215,277.5 L211.5,273 L212.3,267 C214.9,265.2 222.6,259.7 228,256.5 C233.4,253.3 238.7,250.7 244.6,247.8 C250.5,244.9 257.5,242.1 263.6,239 C269.7,235.9 275.4,233.1 281.4,229.5 C287.3,225.9 293.4,221.3 299.3,217.5 C305.2,213.7 311.8,209.9 317.1,206.5 C322.4,203.1 322.7,202.8 331,197 C339.3,191.2 353.5,181 366.7,171.5 C379.9,162 395.6,150.5 410,140 C424.4,129.5 445.8,113.8 453,108.5Z" fill="#3e3a35"/>
<path d="M453,108.5 C459.7,109.2 480.2,111.1 493,113 C505.8,114.9 515.5,117.2 530,120 C544.5,122.8 562.7,125.3 580,129.6 C597.3,133.9 615.7,140.3 633.6,145.8 C651.5,151.3 669.3,157.8 687.2,162.6 C705.1,167.4 729,171.8 740.8,174.4 C752.6,177 752.8,176.6 757.9,177.9 C763,179.2 767.9,181.1 771.3,182.3 C774.7,183.5 776.6,183.9 778.5,185 C780.4,186.1 781.8,188.3 782.4,189 L777.5,192 C777,194 775.7,200.5 774.5,204 C773.3,207.5 772.7,209 770.5,213 C768.3,217 764.9,222.3 761.3,228.2 C757.6,234.1 753.2,242.2 748.6,248.5 C744,254.8 738.9,260.7 733.4,266.2 C727.9,271.7 722.5,276.3 715.7,281.4 C709,286.5 700.9,291.9 692.9,296.6 C684.9,301.3 676.4,304.4 667.6,309.5 C658.8,314.6 646.4,322.8 640,327 C633.6,331.2 634.1,331.3 629.3,334.9 C624.5,338.4 617.6,343.6 611.4,348.3 C605.2,353 598.3,357.5 592.1,363.2 C585.9,368.9 579.2,376.4 574.2,382.5 C569.2,388.6 564.3,397.1 562.3,400 C560.1,400.1 553.3,400.6 549.1,400.9 C544.9,401.2 541,401.7 537,401.9 C533,402.1 528.9,402.1 524.9,401.9 C520.9,401.7 516.8,401.4 512.8,400.9 C508.7,400.4 504.7,399.8 500.6,399.1 C496.6,398.4 492.5,397.8 488.5,396.7 C484.5,395.6 480.4,393.9 476.4,392.4 C472.4,390.9 468.7,389.7 464.3,387.6 C459.9,385.5 454.7,382.8 449.8,379.8 C444.9,376.8 439.9,373.1 434.9,369.5 C429.9,365.9 424.9,361.9 420,358 C415.1,354.1 411.1,350 405.7,345.9 C400.3,341.8 393.8,337.5 387.9,333.4 C381.9,329.2 376.4,326.9 370,321 C363.6,315.1 355.4,303.8 349.5,298 C343.6,292.2 339.6,289.8 334.6,286.5 C329.7,283.2 324.8,280.7 319.8,278.3 C314.9,275.9 309.9,274 304.9,272.3 C299.9,270.6 294.5,269.4 290,267.9 C285.5,266.4 282.6,264.7 277.8,263.5 C273,262.3 266.6,261.1 261,260.5 C255.4,259.9 249.8,259.8 244.2,260 C238.6,260.2 232.4,260.8 227.4,262 C222.4,263.2 216.2,266.2 214,267 L212.3,267 C214.9,265.2 222.6,259.7 228,256.5 C233.4,253.3 238.7,250.7 244.6,247.8 C250.5,244.9 257.5,242.1 263.6,239 C269.7,235.9 275.4,233.1 281.4,229.5 C287.3,225.9 293.4,221.3 299.3,217.5 C305.2,213.7 311.8,209.9 317.1,206.5 C322.4,203.1 322.7,202.8 331,197 C339.3,191.2 353.5,181 366.7,171.5 C379.9,162 395.6,150.5 410,140 C424.4,129.5 445.8,113.8 453,108.5Z" fill="url(#dots)"/>
<path d="M777.5,192 C777,194 775.7,200.5 774.5,204 C773.3,207.5 772.7,209 770.5,213 C768.3,217 764.9,222.3 761.3,228.2 C757.6,234.1 753.2,242.2 748.6,248.5 C744,254.8 738.9,260.7 733.4,266.2 C727.9,271.7 722.5,276.3 715.7,281.4 C709,286.5 700.9,291.9 692.9,296.6 C684.9,301.3 676.4,304.4 667.6,309.5 C658.8,314.6 646.4,322.8 640,327 C633.6,331.2 634.1,331.3 629.3,334.9 C624.5,338.4 617.6,343.6 611.4,348.3 C605.2,353 598.3,357.5 592.1,363.2 C585.9,368.9 579.2,376.4 574.2,382.5 C569.2,388.6 564.3,397.1 562.3,400 M562.3,400 C560.1,400.1 553.3,400.6 549.1,400.9 C544.9,401.2 541,401.7 537,401.9 C533,402.1 528.9,402.1 524.9,401.9 C520.9,401.7 516.8,401.4 512.8,400.9 C508.7,400.4 504.7,399.8 500.6,399.1 C496.6,398.4 492.5,397.8 488.5,396.7 C484.5,395.6 480.4,393.9 476.4,392.4 C472.4,390.9 468.7,389.7 464.3,387.6 C459.9,385.5 454.7,382.8 449.8,379.8 C444.9,376.8 439.9,373.1 434.9,369.5 C429.9,365.9 424.9,361.9 420,358 C415.1,354.1 411.1,350 405.7,345.9 C400.3,341.8 393.8,337.5 387.9,333.4 C381.9,329.2 376.4,326.9 370,321 C363.6,315.1 355.4,303.8 349.5,298 C343.6,292.2 339.6,289.8 334.6,286.5 C329.7,283.2 324.8,280.7 319.8,278.3 C314.9,275.9 309.9,274 304.9,272.3 C299.9,270.6 294.5,269.4 290,267.9 C285.5,266.4 282.6,264.7 277.8,263.5 C273,262.3 266.6,261.1 261,260.5 C255.4,259.9 249.8,259.8 244.2,260 C238.6,260.2 232.4,260.8 227.4,262 C222.4,263.2 216.2,266.2 214,267" fill="none" stroke="#1a1513" stroke-width="1.6"/>
<mask id="bm" maskUnits="userSpaceOnUse" x="0" y="0" width="1072" height="672"><rect width="1072" height="672" fill="#fff"/><path d="M312.5,153.9 C313.7,155.7 317.2,161.4 319.6,164.9 C322,168.4 324.9,171.3 326.8,175 C328.7,178.7 329.7,182.2 331,187 C332.3,191.8 333.9,198.2 334.5,204 C335.1,209.8 335,215.8 334.5,222 C334,228.2 332.8,234.3 331.5,241 C330.2,247.7 327.3,258.5 326.5,262 L388.5,303.5 C388.6,299.9 388.9,288.9 389,282 C389.1,275.1 389.2,268.7 389.2,262 C389.2,255.3 389.2,248.2 389,242 C388.8,235.8 388.7,230.5 388.2,225 C387.7,219.5 387,213.8 386,209 C385,204.2 383.7,200.2 382,196 C380.3,191.8 378.6,187.6 376,183.5 C373.4,179.4 370.3,175.4 366.5,171.5 C362.7,167.6 357.5,163.2 353,160 C348.5,156.8 341.6,153.8 339.3,152.5Z" fill="#000"/><path d="M698.5,145.4 C695.1,148.2 684.3,155.7 678.2,162.1 C672.1,168.5 666.1,175.5 662.1,183.6 C658.1,191.7 656,200.6 654.1,210.4 C652.2,220.2 651.5,232.6 651,242.5 C650.5,252.4 650.8,261.1 651,270 C651.2,278.9 651.8,291.7 652,296 L711.5,254 C710.8,249.4 708.2,236.3 707.5,226.4 C706.8,216.5 706.6,204.1 707.5,194.3 C708.4,184.5 709.9,175.7 713,167.5 C716.1,159.3 723.8,149.1 726,145.4Z" fill="#000"/></mask>
<path d="M453,108.5 C459.7,109.2 480.2,111.1 493,113 C505.8,114.9 515.5,117.2 530,120 C544.5,122.8 562.7,125.3 580,129.6 C597.3,133.9 615.7,140.3 633.6,145.8 C651.5,151.3 669.3,157.8 687.2,162.6 C705.1,167.4 729,171.8 740.8,174.4 C752.6,177 752.8,176.6 757.9,177.9 C763,179.2 767.9,181.1 771.3,182.3 C774.7,183.5 776.6,183.9 778.5,185 C780.4,186.1 781.8,188.3 782.4,189 C782.5,190.3 783.5,194.4 783.3,197 C783.1,199.6 782,202.1 781,204.6 C780,207.1 778.8,209.2 777.5,211.8 C776.2,214.4 774.9,216.8 773,220 C771.1,223.2 769.5,225.6 766.3,230.8 C763.1,236 758.3,244.2 753.7,251 C749.1,257.8 744,265 738.5,271.3 C733,277.6 727.5,283.5 720.8,289 C714,294.5 706,299.4 698,304.2 C690,308.9 682.4,311.8 672.7,317.5 C663,323.2 648.2,333.3 640,338.5 C631.8,343.7 628.8,345.1 623.3,348.5 C617.8,351.9 612.2,355.1 607,359 C601.8,362.9 597.1,367 592.1,372.1 C587.1,377.2 581.4,383.8 577.2,389.9 C573,396 568.5,405.4 566.8,408.5 C563.8,409.1 554.1,411 549.1,411.8 C544.1,412.6 541,413 537,413.3 C533,413.6 528.9,413.8 524.9,413.9 C520.9,414 516.8,413.9 512.8,413.7 C508.7,413.5 504.7,413.1 500.6,412.5 C496.6,411.9 492.5,410.9 488.5,410 C484.5,409.1 480.4,408.3 476.4,407 C472.4,405.7 468.7,404.7 464.3,402.1 C459.9,399.5 454.7,394.9 449.8,391.5 C444.9,388.1 440.8,385.9 434.9,382 C429,378.1 421,372.7 414.6,368.2 C408.2,363.7 402.8,360.2 396.8,354.8 C390.9,349.4 384.3,341.6 378.9,336 C373.5,330.4 369.3,325.3 364.4,321 C359.5,316.7 354.5,313.4 349.5,310 C344.5,306.6 339.6,303.7 334.6,300.6 C329.7,297.6 324.8,294.4 319.8,291.7 C314.9,289 309.9,286.2 304.9,284.2 C299.9,282.2 294.5,280.9 290,279.5 C285.5,278.1 282.6,276.9 277.8,275.8 C273,274.7 266.6,273.6 261,273 C255.4,272.4 249.8,271.9 244.2,272 C238.6,272.1 232.3,272.7 227.4,273.6 C222.5,274.5 217.1,276.9 215,277.5 L211.5,273 L212.3,267 C214.9,265.2 222.6,259.7 228,256.5 C233.4,253.3 238.7,250.7 244.6,247.8 C250.5,244.9 257.5,242.1 263.6,239 C269.7,235.9 275.4,233.1 281.4,229.5 C287.3,225.9 293.4,221.3 299.3,217.5 C305.2,213.7 311.8,209.9 317.1,206.5 C322.4,203.1 322.7,202.8 331,197 C339.3,191.2 353.5,181 366.7,171.5 C379.9,162 395.6,150.5 410,140 C424.4,129.5 445.8,113.8 453,108.5Z" fill="none" stroke="#120e0c" stroke-width="3.8" stroke-linejoin="round" mask="url(#bm)"/>
<path d="M453,108.5 C459.7,109.2 480.2,111.1 493,113 C505.8,114.9 515.5,117.2 530,120 C544.5,122.8 562.7,125.3 580,129.6 C597.3,133.9 615.7,140.3 633.6,145.8 C651.5,151.3 669.3,157.8 687.2,162.6 C705.1,167.4 729,171.8 740.8,174.4 C752.6,177 752.8,176.6 757.9,177.9 C763,179.2 767.9,181.1 771.3,182.3 C774.7,183.5 776.6,183.9 778.5,185 C780.4,186.1 781.8,188.3 782.4,189 C782.5,190.3 783.5,194.4 783.3,197 C783.1,199.6 782,202.1 781,204.6 C780,207.1 778.8,209.2 777.5,211.8 C776.2,214.4 774.9,216.8 773,220 C771.1,223.2 769.5,225.6 766.3,230.8 C763.1,236 758.3,244.2 753.7,251 C749.1,257.8 744,265 738.5,271.3 C733,277.6 727.5,283.5 720.8,289 C714,294.5 706,299.4 698,304.2 C690,308.9 682.4,311.8 672.7,317.5 C663,323.2 648.2,333.3 640,338.5 C631.8,343.7 628.8,345.1 623.3,348.5 C617.8,351.9 612.2,355.1 607,359 C601.8,362.9 597.1,367 592.1,372.1 C587.1,377.2 581.4,383.8 577.2,389.9 C573,396 568.5,405.4 566.8,408.5 C563.8,409.1 554.1,411 549.1,411.8 C544.1,412.6 541,413 537,413.3 C533,413.6 528.9,413.8 524.9,413.9 C520.9,414 516.8,413.9 512.8,413.7 C508.7,413.5 504.7,413.1 500.6,412.5 C496.6,411.9 492.5,410.9 488.5,410 C484.5,409.1 480.4,408.3 476.4,407 C472.4,405.7 468.7,404.7 464.3,402.1 C459.9,399.5 454.7,394.9 449.8,391.5 C444.9,388.1 440.8,385.9 434.9,382 C429,378.1 421,372.7 414.6,368.2 C408.2,363.7 402.8,360.2 396.8,354.8 C390.9,349.4 384.3,341.6 378.9,336 C373.5,330.4 369.3,325.3 364.4,321 C359.5,316.7 354.5,313.4 349.5,310 C344.5,306.6 339.6,303.7 334.6,300.6 C329.7,297.6 324.8,294.4 319.8,291.7 C314.9,289 309.9,286.2 304.9,284.2 C299.9,282.2 294.5,280.9 290,279.5 C285.5,278.1 282.6,276.9 277.8,275.8 C273,274.7 266.6,273.6 261,273 C255.4,272.4 249.8,271.9 244.2,272 C238.6,272.1 232.3,272.7 227.4,273.6 C222.5,274.5 217.1,276.9 215,277.5 L211.5,273 L212.3,267 C214.9,265.2 222.6,259.7 228,256.5 C233.4,253.3 238.7,250.7 244.6,247.8 C250.5,244.9 257.5,242.1 263.6,239 C269.7,235.9 275.4,233.1 281.4,229.5 C287.3,225.9 293.4,221.3 299.3,217.5 C305.2,213.7 311.8,209.9 317.1,206.5 C322.4,203.1 322.7,202.8 331,197 C339.3,191.2 353.5,181 366.7,171.5 C379.9,162 395.6,150.5 410,140 C424.4,129.5 445.8,113.8 453,108.5Z" fill="none" stroke="#120e0c" stroke-width="3.8" stroke-linejoin="round" stroke-opacity="0.35" clip-path="url(#bandclip)"/>
<clipPath id="fc"><path d="M453,108.5 C459.7,109.2 480.2,111.1 493,113 C505.8,114.9 515.5,117.2 530,120 C544.5,122.8 562.7,125.3 580,129.6 C597.3,133.9 615.7,140.3 633.6,145.8 C651.5,151.3 669.3,157.8 687.2,162.6 C705.1,167.4 729,171.8 740.8,174.4 C752.6,177 752.8,176.6 757.9,177.9 C763,179.2 767.9,181.1 771.3,182.3 C774.7,183.5 776.6,183.9 778.5,185 C780.4,186.1 781.8,188.3 782.4,189 C782.5,190.3 783.5,194.4 783.3,197 C783.1,199.6 782,202.1 781,204.6 C780,207.1 778.8,209.2 777.5,211.8 C776.2,214.4 774.9,216.8 773,220 C771.1,223.2 769.5,225.6 766.3,230.8 C763.1,236 758.3,244.2 753.7,251 C749.1,257.8 744,265 738.5,271.3 C733,277.6 727.5,283.5 720.8,289 C714,294.5 706,299.4 698,304.2 C690,308.9 682.4,311.8 672.7,317.5 C663,323.2 648.2,333.3 640,338.5 C631.8,343.7 628.8,345.1 623.3,348.5 C617.8,351.9 612.2,355.1 607,359 C601.8,362.9 597.1,367 592.1,372.1 C587.1,377.2 581.4,383.8 577.2,389.9 C573,396 568.5,405.4 566.8,408.5 C563.8,409.1 554.1,411 549.1,411.8 C544.1,412.6 541,413 537,413.3 C533,413.6 528.9,413.8 524.9,413.9 C520.9,414 516.8,413.9 512.8,413.7 C508.7,413.5 504.7,413.1 500.6,412.5 C496.6,411.9 492.5,410.9 488.5,410 C484.5,409.1 480.4,408.3 476.4,407 C472.4,405.7 468.7,404.7 464.3,402.1 C459.9,399.5 454.7,394.9 449.8,391.5 C444.9,388.1 440.8,385.9 434.9,382 C429,378.1 421,372.7 414.6,368.2 C408.2,363.7 402.8,360.2 396.8,354.8 C390.9,349.4 384.3,341.6 378.9,336 C373.5,330.4 369.3,325.3 364.4,321 C359.5,316.7 354.5,313.4 349.5,310 C344.5,306.6 339.6,303.7 334.6,300.6 C329.7,297.6 324.8,294.4 319.8,291.7 C314.9,289 309.9,286.2 304.9,284.2 C299.9,282.2 294.5,280.9 290,279.5 C285.5,278.1 282.6,276.9 277.8,275.8 C273,274.7 266.6,273.6 261,273 C255.4,272.4 249.8,271.9 244.2,272 C238.6,272.1 232.3,272.7 227.4,273.6 C222.5,274.5 217.1,276.9 215,277.5 L211.5,273 L212.3,267 C214.9,265.2 222.6,259.7 228,256.5 C233.4,253.3 238.7,250.7 244.6,247.8 C250.5,244.9 257.5,242.1 263.6,239 C269.7,235.9 275.4,233.1 281.4,229.5 C287.3,225.9 293.4,221.3 299.3,217.5 C305.2,213.7 311.8,209.9 317.1,206.5 C322.4,203.1 322.7,202.8 331,197 C339.3,191.2 353.5,181 366.7,171.5 C379.9,162 395.6,150.5 410,140 C424.4,129.5 445.8,113.8 453,108.5Z"/></clipPath>
<g fill="#a3d583" fill-opacity="0.6" clip-path="url(#fc)">
<path d="M312.5,153.9 C313.7,155.7 317.2,161.4 319.6,164.9 C322,168.4 324.9,171.3 326.8,175 C328.7,178.7 329.7,182.2 331,187 C332.3,191.8 333.9,198.2 334.5,204 C335.1,209.8 335,215.8 334.5,222 C334,228.2 332.8,234.3 331.5,241 C330.2,247.7 327.3,258.5 326.5,262 L388.5,303.5 C388.6,299.9 388.9,288.9 389,282 C389.1,275.1 389.2,268.7 389.2,262 C389.2,255.3 389.2,248.2 389,242 C388.8,235.8 388.7,230.5 388.2,225 C387.7,219.5 387,213.8 386,209 C385,204.2 383.7,200.2 382,196 C380.3,191.8 378.6,187.6 376,183.5 C373.4,179.4 370.3,175.4 366.5,171.5 C362.7,167.6 357.5,163.2 353,160 C348.5,156.8 341.6,153.8 339.3,152.5Z"/>
<path d="M698.5,145.4 C695.1,148.2 684.3,155.7 678.2,162.1 C672.1,168.5 666.1,175.5 662.1,183.6 C658.1,191.7 656,200.6 654.1,210.4 C652.2,220.2 651.5,232.6 651,242.5 C650.5,252.4 650.8,261.1 651,270 C651.2,278.9 651.8,291.7 652,296 L711.5,254 C710.8,249.4 708.2,236.3 707.5,226.4 C706.8,216.5 706.6,204.1 707.5,194.3 C708.4,184.5 709.9,175.7 713,167.5 C716.1,159.3 723.8,149.1 726,145.4Z"/>
</g>
<g fill="none" stroke="#15240d" stroke-width="1.4" stroke-linejoin="round">
<path d="M312.5,153.9 C313.7,155.7 317.2,161.4 319.6,164.9 C322,168.4 324.9,171.3 326.8,175 C328.7,178.7 329.7,182.2 331,187 C332.3,191.8 333.9,198.2 334.5,204 C335.1,209.8 335,215.8 334.5,222 C334,228.2 332.8,234.3 331.5,241 C330.2,247.7 327.3,258.5 326.5,262 L388.5,303.5 C388.6,299.9 388.9,288.9 389,282 C389.1,275.1 389.2,268.7 389.2,262 C389.2,255.3 389.2,248.2 389,242 C388.8,235.8 388.7,230.5 388.2,225 C387.7,219.5 387,213.8 386,209 C385,204.2 383.7,200.2 382,196 C380.3,191.8 378.6,187.6 376,183.5 C373.4,179.4 370.3,175.4 366.5,171.5 C362.7,167.6 357.5,163.2 353,160 C348.5,156.8 341.6,153.8 339.3,152.5Z"/>
<path d="M698.5,145.4 C695.1,148.2 684.3,155.7 678.2,162.1 C672.1,168.5 666.1,175.5 662.1,183.6 C658.1,191.7 656,200.6 654.1,210.4 C652.2,220.2 651.5,232.6 651,242.5 C650.5,252.4 650.8,261.1 651,270 C651.2,278.9 651.8,291.7 652,296 L711.5,254 C710.8,249.4 708.2,236.3 707.5,226.4 C706.8,216.5 706.6,204.1 707.5,194.3 C708.4,184.5 709.9,175.7 713,167.5 C716.1,159.3 723.8,149.1 726,145.4Z"/>
</g>
<g fill="#6caf40" stroke="#0f1a0a" stroke-width="2.4" stroke-linejoin="miter">
<path d="M137.2,151.4 L207.6,109.4 L240.8,130.9 C246.3,131.1 263,130.7 273.6,131.9 C284.2,133.1 293.4,134.7 304.4,138.1 C315.3,141.5 333.5,150.1 339.3,152.5 L269.5,152.9 L302.4,178.1Z"/>
<path d="M900,145 L831.4,102.7 L798,123.9 C793.3,124.2 779.4,124.5 770,125.5 C760.6,126.5 750.3,128.2 741.6,130 C732.9,131.8 725.2,133.9 718,136.5 C710.8,139.1 701.8,143.9 698.5,145.4 L770.3,145.4 L736.4,171.1Z"/>
</g>
<circle cx="499.3" cy="137.9" r="10" fill="url(#sh)"/>
<circle cx="509" cy="156.8" r="10" fill="url(#sh)"/>
<circle cx="526.8" cy="165.9" r="10" fill="url(#sh)"/>
<circle cx="484.6" cy="175.6" r="10" fill="url(#sh)"/>
<circle cx="500.2" cy="176.6" r="10" fill="url(#sh)"/>
<circle cx="534.8" cy="197.6" r="10" fill="url(#sh)"/>
<circle cx="487.6" cy="212" r="10" fill="url(#sh)"/>
<circle cx="525.1" cy="220.2" r="10" fill="url(#sh)"/>
<circle cx="511" cy="233.3" r="10" fill="url(#sh)"/>
<circle cx="507.7" cy="245.8" r="10" fill="url(#sh)"/>
<circle cx="530.2" cy="264.1" r="10" fill="url(#sh)"/>
<circle cx="510.4" cy="275.4" r="10" fill="url(#sh)"/>
<circle cx="495.8" cy="281.8" r="10" fill="url(#sh)"/>
<circle cx="518.8" cy="303.5" r="10" fill="url(#sh)"/>
<circle cx="503.1" cy="332.7" r="10" fill="url(#sh)"/>
<circle cx="503.9" cy="185.5" r="10" fill="url(#sh)"/>
<circle cx="495.3" cy="190.7" r="10" fill="url(#sh)"/>
<circle cx="513.2" cy="188.5" r="10" fill="url(#sh)"/>
<circle cx="499.3" cy="136.9" r="7" fill="url(#bf)"/>
<circle cx="509" cy="155.8" r="7" fill="url(#bf)"/>
<circle cx="526.8" cy="164.9" r="7" fill="url(#bf)"/>
<circle cx="484.6" cy="174.6" r="7" fill="url(#bf)"/>
<circle cx="500.2" cy="175.6" r="7" fill="url(#bf)"/>
<circle cx="534.8" cy="196.6" r="7" fill="url(#bf)"/>
<circle cx="487.6" cy="211" r="7" fill="url(#bf)"/>
<circle cx="525.1" cy="219.2" r="7" fill="url(#bf)"/>
<circle cx="511" cy="232.3" r="7" fill="url(#bf)"/>
<circle cx="507.7" cy="244.8" r="7" fill="url(#bf)"/>
<circle cx="530.2" cy="263.1" r="7" fill="url(#bf)"/>
<circle cx="510.4" cy="274.4" r="7" fill="url(#bf)"/>
<circle cx="495.8" cy="280.8" r="7" fill="url(#bf)"/>
<circle cx="518.8" cy="302.5" r="7" fill="url(#bf)"/>
<circle cx="503.1" cy="331.7" r="7" fill="url(#bf)"/>
<circle cx="503.9" cy="184.5" r="7" fill="url(#bf)"/>
<circle cx="495.3" cy="189.7" r="7" fill="url(#bf)"/>
<circle cx="513.2" cy="187.5" r="7" fill="url(#bf)"/>
<circle cx="507.4" cy="48.5" r="7.1" fill="url(#bg)"/>
<circle cx="507.4" cy="48.5" r="7.1" fill="url(#bge)"/>
<circle cx="499.8" cy="65.3" r="7.1" fill="url(#bg)"/>
<circle cx="499.8" cy="65.3" r="7.1" fill="url(#bge)"/>
<circle cx="509.6" cy="79.6" r="7.1" fill="url(#bg)"/>
<circle cx="509.6" cy="79.6" r="7.1" fill="url(#bge)"/>
<circle cx="526.5" cy="85.3" r="7.1" fill="url(#bg)"/>
<circle cx="526.5" cy="85.3" r="7.1" fill="url(#bge)"/>
<circle cx="493.5" cy="111.2" r="7.1" fill="url(#bg)"/>
<circle cx="493.5" cy="111.2" r="7.1" fill="url(#bge)"/>
<circle cx="514" cy="108.2" r="7.1" fill="url(#bg)"/>
<circle cx="514" cy="108.2" r="7.1" fill="url(#bge)"/>
<circle cx="523.1" cy="118.5" r="7.1" fill="url(#bg)"/>
<circle cx="523.1" cy="118.5" r="7.1" fill="url(#bge)"/>
<g fill="none" stroke="#141414" stroke-width="2.45" stroke-linecap="square" stroke-linejoin="round">
<path d="M336.43 5.12L336.43 31.27M348.82 5.12L348.82 31.27M336.43 18.2L348.82 18.2M366.24 21.2L366.24 15.32 Q366.24 11.12 362.04 11.12L360.44 11.12 Q356.24 11.12 356.24 15.32L356.24 27.07 Q356.24 31.27 360.44 31.27L365.14 31.27 Q366.24 31.27 366.24 30.17L366.24 29.07M356.24 21.2L366.24 21.2M373.96 11.12L379.46 11.12 Q383.66 11.12 383.66 15.32L383.66 31.27M383.66 21.2L377.86 21.2 Q373.66 21.2 373.66 25.4L373.66 27.07 Q373.66 31.27 377.86 31.27L383.66 31.27M393.07 5.93L393.07 28.97 Q393.07 31.27 395.38 31.27L397.68 31.27M391.07 11.12L397.68 11.12M412.53 11.12L418.03 11.12 Q422.23 11.12 422.23 15.32L422.23 31.27M422.23 21.2L416.43 21.2 Q412.23 21.2 412.23 25.4L412.23 27.07 Q412.23 31.27 416.43 31.27L422.23 31.27M431.5 11.12L431.5 31.27M431.5 31.27L431.5 15.32 Q431.5 11.12 435.7 11.12L437.3 11.12 Q441.5 11.12 441.5 15.32L441.5 31.27M460.78 11.12L454.98 11.12 Q450.78 11.12 450.78 15.32L450.78 27.07 Q450.78 31.27 454.98 31.27L460.78 31.27M460.78 5.12L460.78 31.27M476.73 31.27L476.73 5.12L484.33 23.43L491.93 5.12L491.93 31.27M504.35 11.12L506.85 11.12 Q509.35 11.12 509.35 13.62L509.35 27.07 Q509.35 31.27 505.15 31.27L503.55 31.27 Q499.35 31.27 499.35 27.07L499.35 13.72 Q499.35 11.12 501.95 11.12L504.55 11.12M516.77 11.12L516.77 31.27M516.77 5.62L516.77 7.32M534.19 11.12L528.39 11.12 Q524.19 11.12 524.19 15.32L524.19 17 Q524.19 21.2 528.39 21.2L529.99 21.2 Q534.19 21.2 534.19 25.4L534.19 27.07 Q534.19 31.27 529.99 31.27L524.19 31.27M543.61 5.93L543.61 28.97 Q543.61 31.27 545.91 31.27L548.21 31.27M541.61 11.12L548.21 11.12M555.63 11.12L555.63 27.07 Q555.63 31.27 559.83 31.27L561.43 31.27 Q565.63 31.27 565.63 27.07L565.63 11.12M565.63 11.12L565.63 31.27M573.05 11.12L573.05 31.27M573.05 31.27L573.05 13.93 Q573.05 11.12 575.85 11.12L578.65 11.12M596.07 21.2L596.07 15.32 Q596.07 11.12 591.87 11.12L590.27 11.12 Q586.07 11.12 586.07 15.32L586.07 27.07 Q586.07 31.27 590.27 31.27L594.97 31.27 Q596.07 31.27 596.07 30.17L596.07 29.07M586.07 21.2L596.07 21.2M610.23 5.12L621.83 5.12M616.02 5.12L616.02 31.27M628.85 11.12L628.85 31.27M628.85 31.27L628.85 13.93 Q628.85 11.12 631.65 11.12L634.45 11.12M641.77 11.12L647.27 11.12 Q651.47 11.12 651.47 15.32L651.47 31.27M651.47 21.2L645.67 21.2 Q641.47 21.2 641.47 25.4L641.47 27.07 Q641.47 31.27 645.67 31.27L651.47 31.27M658.49 11.12L658.49 31.27M658.49 31.27L658.49 15.32 Q658.49 11.12 662.69 11.12L664.29 11.12 Q668.49 11.12 668.49 15.32L668.49 31.27M685.51 11.12L679.71 11.12 Q675.51 11.12 675.51 15.32L675.51 17 Q675.51 21.2 679.71 21.2L681.31 21.2 Q685.51 21.2 685.51 25.4L685.51 27.07 Q685.51 31.27 681.31 31.27L675.51 31.27M694.53 31.27L694.53 7.52 Q694.53 5.12 696.93 5.12L699.33 5.12M692.53 11.12L698.93 11.12M715.95 21.2L715.95 15.32 Q715.95 11.12 711.75 11.12L710.15 11.12 Q705.95 11.12 705.95 15.32L705.95 27.07 Q705.95 31.27 710.15 31.27L714.85 31.27 Q715.95 31.27 715.95 30.17L715.95 29.07M705.95 21.2L715.95 21.2M722.98 11.12L722.98 31.27M722.98 31.27L722.98 13.93 Q722.98 11.12 725.78 11.12L728.58 11.12"/>
<path d="M812.43 219.68L812.43 193.53L818.83 193.53 Q823.03 193.53 823.03 197.72L823.03 202.4 Q823.03 206.6 818.83 206.6L812.43 206.6M812.43 206.6L820.02 206.6 Q824.23 206.6 824.23 210.8L824.23 215.48 Q824.23 219.68 820.02 219.68L812.43 219.68M831.91 199.53L831.91 219.68M831.91 219.68L831.91 202.33 Q831.91 199.53 834.71 199.53L837.51 199.53M855.19 209.6L855.19 203.72 Q855.19 199.53 850.99 199.53L849.39 199.53 Q845.19 199.53 845.19 203.72L845.19 215.48 Q845.19 219.68 849.39 219.68L854.09 219.68 Q855.19 219.68 855.19 218.57L855.19 217.47M845.19 209.6L855.19 209.6M863.17 199.53L868.67 199.53 Q872.88 199.53 872.88 203.72L872.88 219.68M872.88 209.6L867.08 209.6 Q862.88 209.6 862.88 213.8L862.88 215.48 Q862.88 219.68 867.08 219.68L872.88 219.68M882.56 194.33L882.56 217.38 Q882.56 219.68 884.86 219.68L887.16 219.68M880.56 199.53L887.16 199.53M894.84 193.53L894.84 219.68M894.84 219.68L894.84 203.72 Q894.84 199.53 899.04 199.53L900.64 199.53 Q904.84 199.53 904.84 203.72L904.84 219.68M912.82 199.53L918.32 199.53 Q922.52 199.53 922.52 203.72L922.52 219.68M922.52 209.6L916.73 209.6 Q912.52 209.6 912.52 213.8L912.52 215.48 Q912.52 219.68 916.73 219.68L922.52 219.68M930.21 193.53L930.21 219.68M935.21 199.53L937.71 199.53 Q940.21 199.53 940.21 202.03L940.21 215.48 Q940.21 219.68 936.01 219.68L934.41 219.68 Q930.21 219.68 930.21 215.48L930.21 202.13 Q930.21 199.53 932.81 199.53L935.41 199.53M947.89 193.53L947.89 219.68M965.57 209.6L965.57 203.72 Q965.57 199.53 961.37 199.53L959.77 199.53 Q955.57 199.53 955.57 203.72L955.57 215.48 Q955.57 219.68 959.77 219.68L964.47 219.68 Q965.57 219.68 965.57 218.57L965.57 217.47M955.57 209.6L965.57 209.6M991.32 193.53L981.52 193.53L981.52 219.68M981.52 206.3L990.12 206.3M999.21 199.53L1004.71 199.53 Q1008.91 199.53 1008.91 203.72L1008.91 219.68M1008.91 209.6L1003.12 209.6 Q998.91 209.6 998.91 213.8L998.91 215.48 Q998.91 219.68 1003.12 219.68L1008.91 219.68M1016.5 193.53L1016.5 219.68M1021.5 199.53L1024.01 199.53 Q1026.51 199.53 1026.51 202.03L1026.51 215.48 Q1026.51 219.68 1022.31 219.68L1020.71 219.68 Q1016.5 219.68 1016.5 215.48L1016.5 202.13 Q1016.5 199.53 1019.11 199.53L1021.71 199.53M1034.09 199.53L1034.09 219.68M1034.09 219.68L1034.09 202.32 Q1034.09 199.53 1036.89 199.53L1039.69 199.53M1047.28 199.53L1047.28 219.68M1047.28 194.03L1047.28 195.72M1064.87 200.03L1064.87 199.78 Q1064.87 199.53 1064.62 199.53L1059.07 199.53 Q1054.87 199.53 1054.87 203.72L1054.87 215.48 Q1054.87 219.68 1059.07 219.68L1064.62 219.68 Q1064.87 219.68 1064.87 219.43L1064.87 219.18"/>
<path d="M2.62 316.03L2.62 313.62 Q2.62 311.23 5.03 311.23L9.23 311.23 Q13.43 311.23 13.43 315.43L13.43 333.18 Q13.43 337.38 9.23 337.38L5.02 337.38 Q2.62 337.38 2.62 334.98L2.62 332.58M7.22 323.8L13.43 323.8M21.12 327.3L28.12 327.3M35.82 324.3L35.82 311.23L43.22 311.23 Q47.42 311.23 47.42 315.43L47.42 333.18 Q47.42 337.38 43.22 337.38L35.82 337.38L35.82 324.1M63.96 337.38L63.96 311.23L70.96 311.23 Q75.16 311.23 75.16 315.43L75.16 325.33 Q75.16 329.53 70.96 329.53L63.96 329.53M87.86 317.23L90.36 317.23 Q92.86 317.23 92.86 319.73L92.86 333.18 Q92.86 337.38 88.66 337.38L87.06 337.38 Q82.86 337.38 82.86 333.18L82.86 319.83 Q82.86 317.23 85.46 317.23L88.06 317.23M100.56 311.23L100.56 337.38M108.25 317.23L108.25 333.18 Q108.25 337.38 112.45 337.38L114.05 337.38 Q118.25 337.38 118.25 333.18L118.25 317.23M118.25 317.23L118.25 339.78 Q118.25 343.98 114.05 343.98L108.25 343.98M135.95 327.3L135.95 321.43 Q135.95 317.23 131.75 317.23L130.15 317.23 Q125.95 317.23 125.95 321.43L125.95 333.18 Q125.95 337.38 130.15 337.38L134.85 337.38 Q135.95 337.38 135.95 336.27L135.95 335.18M125.95 327.3L135.95 327.3M153.65 317.23L147.85 317.23 Q143.65 317.23 143.65 321.43L143.65 323.1 Q143.65 327.3 147.85 327.3L149.45 327.3 Q153.65 327.3 153.65 331.5L153.65 333.18 Q153.65 337.38 149.45 337.38L143.65 337.38M163.35 312.03L163.35 335.07 Q163.35 337.38 165.65 337.38L167.95 337.38M161.35 317.23L167.95 317.23M185.64 327.3L185.64 321.43 Q185.64 317.23 181.44 317.23L179.84 317.23 Q175.64 317.23 175.64 321.43L175.64 333.18 Q175.64 337.38 179.84 337.38L184.54 337.38 Q185.64 337.38 185.64 336.27L185.64 335.18M175.64 327.3L185.64 327.3M193.34 317.23L193.34 337.38M193.34 337.38L193.34 320.03 Q193.34 317.23 196.14 317.23L198.94 317.23M215.48 337.38L215.48 311.23L223.08 329.53L230.68 311.23L230.68 337.38M248.38 327.3L248.38 321.43 Q248.38 317.23 244.18 317.23L242.58 317.23 Q238.38 317.23 238.38 321.43L238.38 333.18 Q238.38 337.38 242.58 337.38L247.28 337.38 Q248.38 337.38 248.38 336.27L248.38 335.18M238.38 327.3L248.38 327.3M266.08 317.23L260.28 317.23 Q256.08 317.23 256.08 321.43L256.08 323.1 Q256.08 327.3 260.28 327.3L261.88 327.3 Q266.08 327.3 266.08 331.5L266.08 333.18 Q266.08 337.38 261.88 337.38L256.08 337.38M273.78 311.23L273.78 337.38M273.78 337.38L273.78 321.43 Q273.78 317.23 277.98 317.23L279.58 317.23 Q283.78 317.23 283.78 321.43L283.78 337.38"/>
<path d="M815.63 358.73L815.63 356.73 Q815.63 354.73 813.63 354.73L808.63 354.73 Q804.43 354.73 804.43 358.93L804.43 376.68 Q804.43 380.88 808.63 380.88L813.63 380.88 Q815.63 380.88 815.63 378.88L815.63 376.88M823.85 360.73L823.85 376.68 Q823.85 380.88 828.05 380.88L829.65 380.88 Q833.85 380.88 833.85 376.68L833.85 360.73M833.85 360.73L833.85 380.88M852.08 360.73L846.28 360.73 Q842.08 360.73 842.08 364.93L842.08 366.6 Q842.08 370.8 846.28 370.8L847.88 370.8 Q852.08 370.8 852.08 375L852.08 376.68 Q852.08 380.88 847.88 380.88L842.08 380.88M860.3 354.73L860.3 380.88M860.3 380.88L860.3 364.93 Q860.3 360.73 864.5 360.73L866.1 360.73 Q870.3 360.73 870.3 364.93L870.3 380.88M878.53 360.73L878.53 380.88M878.53 355.23L878.53 356.93M891.75 360.73L894.25 360.73 Q896.75 360.73 896.75 363.23L896.75 376.68 Q896.75 380.88 892.55 380.88L890.95 380.88 Q886.75 380.88 886.75 376.68L886.75 363.33 Q886.75 360.73 889.35 360.73L891.95 360.73M904.98 360.73L904.98 380.88M904.98 380.88L904.98 364.93 Q904.98 360.73 909.18 360.73L910.77 360.73 Q914.98 360.73 914.98 364.93L914.98 380.88M941.93 358.73L941.93 356.73 Q941.93 354.73 939.93 354.73L934.93 354.73 Q930.73 354.73 930.73 358.93L930.73 376.68 Q930.73 380.88 934.93 380.88L939.93 380.88 Q941.93 380.88 941.93 378.88L941.93 376.88M953.75 360.73L956.25 360.73 Q958.75 360.73 958.75 363.23L958.75 376.68 Q958.75 380.88 954.55 380.88L952.95 380.88 Q948.75 380.88 948.75 376.68L948.75 363.33 Q948.75 360.73 951.35 360.73L953.95 360.73M965.58 360.73L965.58 380.88M965.58 380.88L965.58 364.93 Q965.58 360.73 969.78 360.73L971.67 360.73 Q975.88 360.73 975.88 364.93L975.88 380.88M975.88 380.88L975.88 364.93 Q975.88 360.73 980.08 360.73L981.98 360.73 Q986.18 360.73 986.18 364.93L986.18 380.88M995 380.88L995 357.12 Q995 354.73 997.4 354.73L999.8 354.73M993 360.73L999.4 360.73M1011.23 360.73L1013.73 360.73 Q1016.23 360.73 1016.23 363.23L1016.23 376.68 Q1016.23 380.88 1012.02 380.88L1010.43 380.88 Q1006.23 380.88 1006.23 376.68L1006.23 363.33 Q1006.23 360.73 1008.83 360.73L1011.43 360.73M1023.05 360.73L1023.05 380.88M1023.05 380.88L1023.05 363.52 Q1023.05 360.73 1025.85 360.73L1028.65 360.73M1037.47 355.53L1037.47 378.58 Q1037.47 380.88 1039.77 380.88L1042.07 380.88M1035.47 360.73L1042.07 360.73"/>
<path d="M403.43 630.23L406.43 630.23 Q409.43 630.23 409.43 633.23L409.43 652.17 Q409.43 656.38 405.23 656.38L401.62 656.38 Q397.43 656.38 397.43 652.17L397.43 633.33 Q397.43 630.23 400.52 630.23L403.62 630.23M405.93 653.38L410.03 657.98M417.18 636.23L417.18 652.17 Q417.18 656.38 421.38 656.38L422.98 656.38 Q427.18 656.38 427.18 652.17L427.18 636.23M427.18 636.23L427.18 656.38M434.94 636.23L434.94 656.38M434.94 630.73L434.94 632.43M452.7 636.73L452.7 636.48 Q452.7 636.23 452.45 636.23L446.9 636.23 Q442.7 636.23 442.7 640.43L442.7 652.17 Q442.7 656.38 446.9 656.38L452.45 656.38 Q452.7 656.38 452.7 656.12L452.7 655.88M460.46 630.23L460.46 656.38M469.96 636.23L460.46 645.8L469.96 656.38M486.63 643.3L486.63 630.23L494.03 630.23 Q498.23 630.23 498.23 634.43L498.23 652.17 Q498.23 656.38 494.03 656.38L486.63 656.38L486.63 643.1M505.99 636.23L505.99 656.38M505.99 656.38L505.99 639.03 Q505.99 636.23 508.79 636.23L511.59 636.23M519.35 636.23L519.35 652.17 Q519.35 656.38 523.55 656.38L525.15 656.38 Q529.35 656.38 529.35 652.17L529.35 636.23M529.35 636.23L529.35 658.77 Q529.35 662.98 525.15 662.98L519.35 662.98M537.11 636.23L537.11 656.38M537.11 630.73L537.11 632.43M544.87 636.23L544.87 656.38M544.87 656.38L544.87 640.43 Q544.87 636.23 549.07 636.23L550.67 636.23 Q554.87 636.23 554.87 640.43L554.87 656.38M572.63 636.23L566.83 636.23 Q562.63 636.23 562.63 640.43L562.63 652.17 Q562.63 656.38 566.83 656.38L572.63 656.38M572.63 636.23L572.63 658.77 Q572.63 662.98 568.43 662.98L562.63 662.98M599.1 630.23L589.3 630.23L589.3 656.38M589.3 643L597.9 643M611.86 636.23L614.36 636.23 Q616.86 636.23 616.86 638.73L616.86 652.17 Q616.86 656.38 612.66 656.38L611.06 656.38 Q606.86 656.38 606.86 652.17L606.86 638.83 Q606.86 636.23 609.46 636.23L612.06 636.23M624.92 636.23L630.42 636.23 Q634.62 636.23 634.62 640.43L634.62 656.38M634.62 646.3L628.82 646.3 Q624.62 646.3 624.62 650.5L624.62 652.17 Q624.62 656.38 628.82 656.38L634.62 656.38M642.38 636.23L642.38 656.38M642.38 656.38L642.38 640.43 Q642.38 636.23 646.58 636.23L648.48 636.23 Q652.68 636.23 652.68 640.43L652.68 656.38M652.68 656.38L652.68 640.43 Q652.68 636.23 656.88 636.23L658.78 636.23 Q662.98 636.23 662.98 640.43L662.98 656.38"/>
</g>
</svg>
</body></html>
